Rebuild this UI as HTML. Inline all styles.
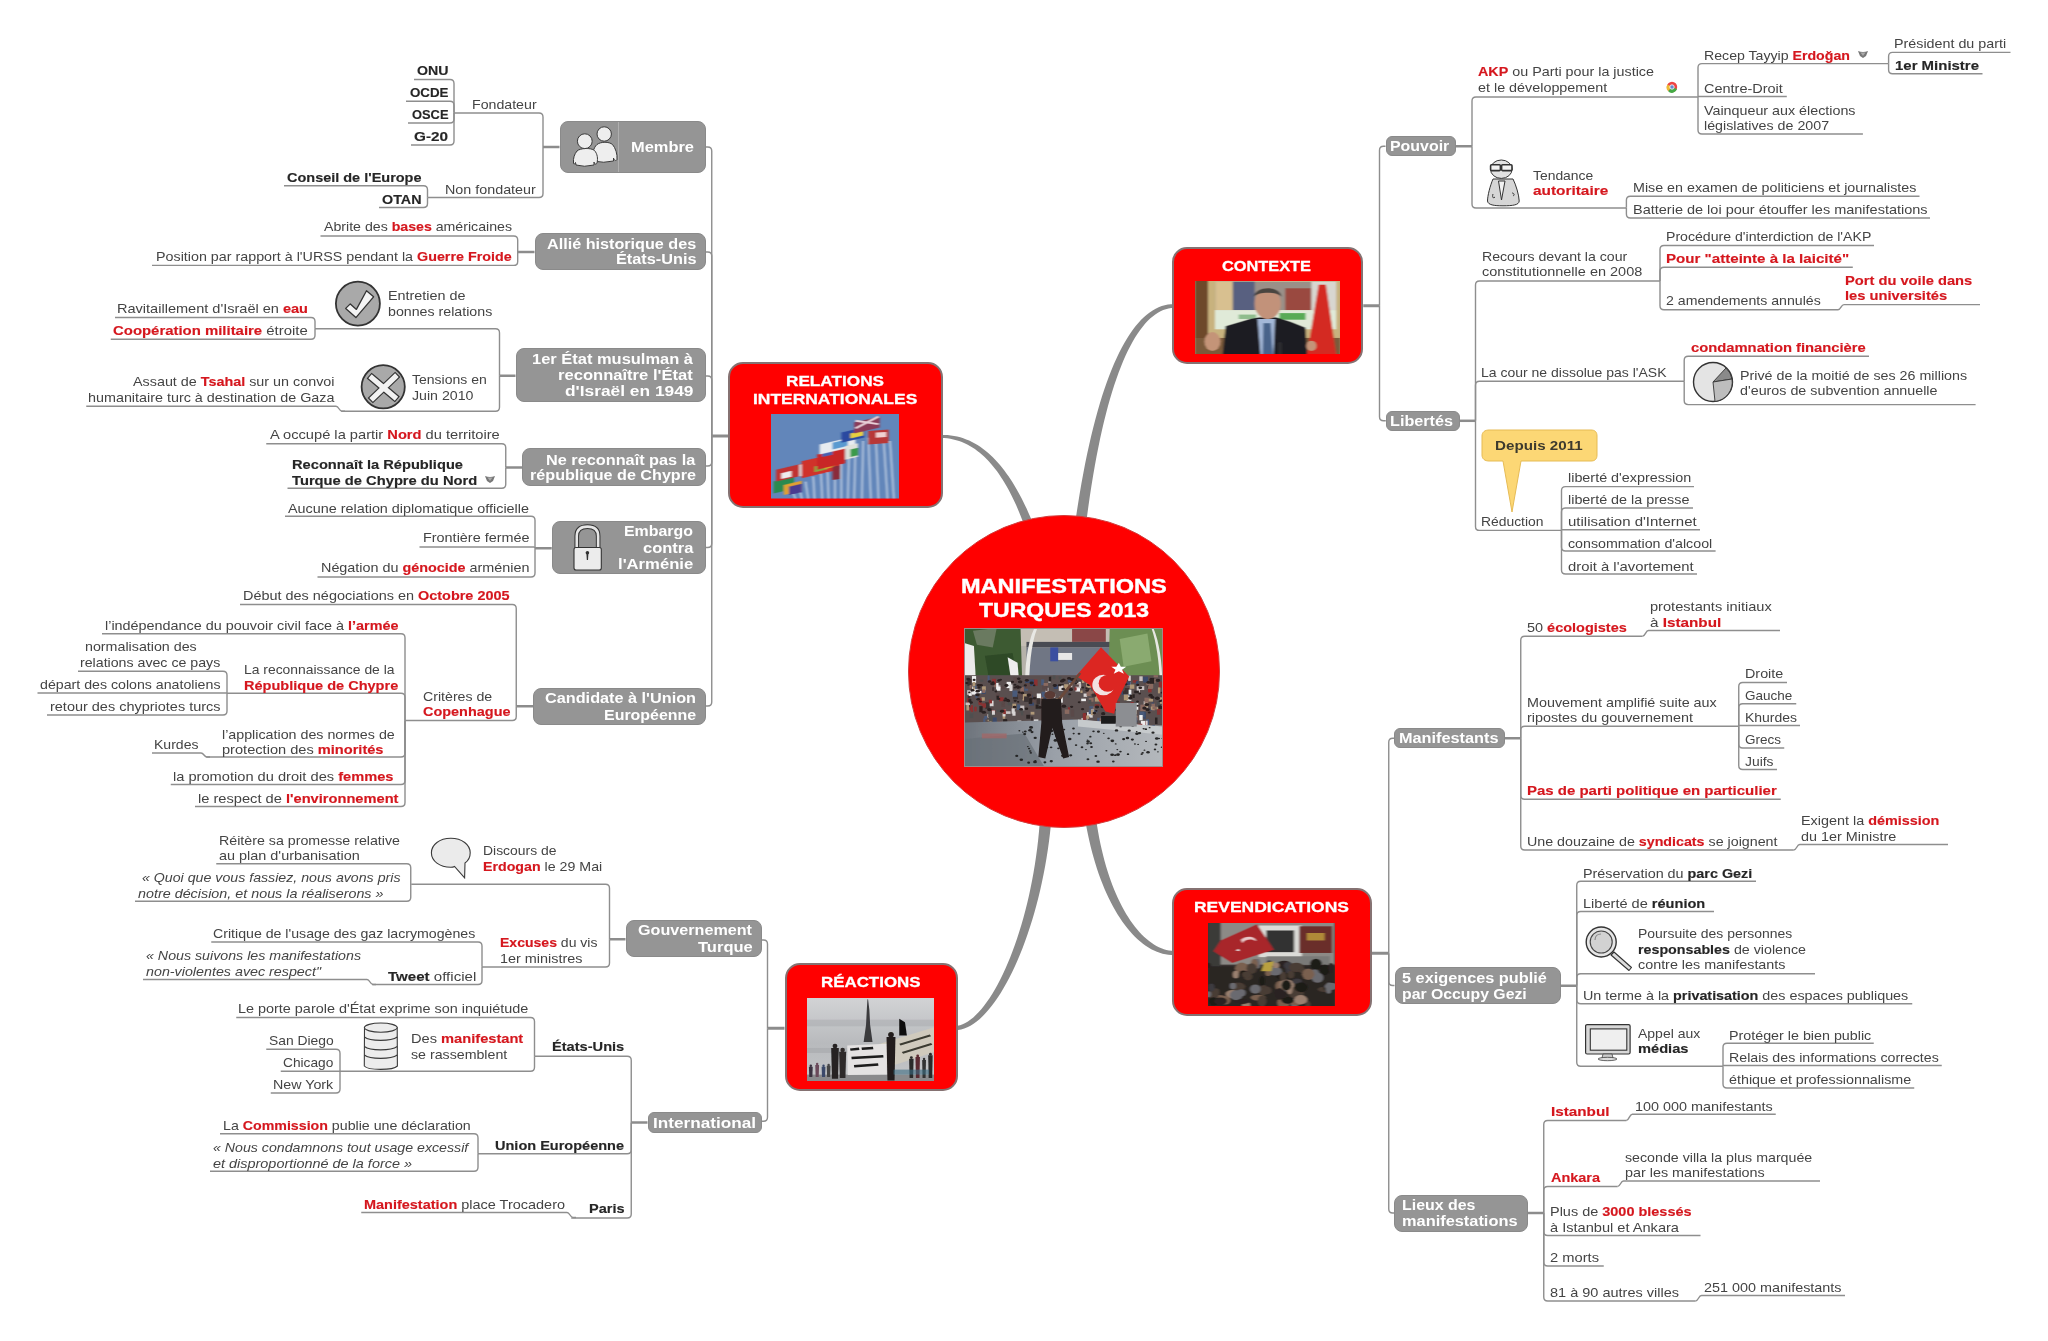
<!DOCTYPE html><html><head><meta charset="utf-8"><style>
*{margin:0;padding:0;box-sizing:border-box}
html,body{width:2048px;height:1341px;background:#fff;overflow:hidden}
body{position:relative;font-family:"Liberation Sans",sans-serif}
.t{position:absolute;white-space:nowrap;transform-origin:0 0}
.cn,.cb,.ci,.cy{font-size:13px;line-height:13px;color:#444444}
.cb{font-weight:bold;color:#262626}
.ci{font-style:italic}
.cy{font-weight:bold;color:#3d3a2e}
.cw{font-size:14px;line-height:14px;font-weight:bold;color:#fff}
.cT{font-size:20px;line-height:20px;font-weight:bold;color:#fff;-webkit-text-stroke:0.4px #fff}
.cR{font-size:15px;line-height:15px;font-weight:bold;color:#fff;-webkit-text-stroke:0.3px #fff}
b.r{color:#d5171e;-webkit-text-stroke:0.15px #d5171e}
b.k{color:#262626;-webkit-text-stroke:0.15px #262626}
.cb{-webkit-text-stroke:0.15px #262626}
.gb{position:absolute;background:#959595;border:1px solid #8a8a8a}
.rb{position:absolute;background:#f00;border:2.5px solid #857272;border-radius:15px}
svg{position:absolute;left:0;top:0}
</style></head><body>
<svg width="2048" height="1341" viewBox="0 0 2048 1341"><path d="M1034.21 526.42 L1032.76 522.81 L1031.27 519.23 L1029.75 515.66 L1028.19 512.13 L1026.59 508.62 L1024.95 505.15 L1023.27 501.72 L1021.56 498.32 L1019.80 494.98 L1018.00 491.68 L1016.16 488.44 L1014.27 485.25 L1012.34 482.12 L1010.37 479.06 L1008.35 476.06 L1006.28 473.14 L1004.17 470.29 L1002.00 467.53 L999.79 464.84 L997.53 462.25 L995.21 459.74 L992.85 457.33 L990.43 455.02 L987.96 452.82 L985.44 450.72 L982.86 448.73 L980.23 446.86 L977.54 445.11 L974.80 443.48 L972.00 441.98 L969.15 440.61 L966.24 439.38 L963.28 438.29 L960.26 437.35 L957.19 436.55 L954.06 435.91 L950.88 435.41 L947.64 435.08 L944.35 434.91 L941.00 434.90 L941.00 437.90 L944.19 438.05 L947.31 438.36 L950.36 438.82 L953.34 439.43 L956.25 440.18 L959.10 441.07 L961.88 442.10 L964.61 443.25 L967.27 444.54 L969.87 445.94 L972.42 447.47 L974.91 449.12 L977.35 450.88 L979.73 452.76 L982.06 454.74 L984.34 456.82 L986.57 459.01 L988.75 461.30 L990.89 463.68 L992.97 466.15 L995.01 468.72 L997.01 471.36 L998.95 474.09 L1000.86 476.90 L1002.71 479.78 L1004.53 482.74 L1006.30 485.76 L1008.04 488.84 L1009.73 491.99 L1011.37 495.20 L1012.98 498.45 L1014.55 501.76 L1016.09 505.11 L1017.58 508.51 L1019.04 511.94 L1020.46 515.42 L1021.84 518.92 L1023.19 522.45 L1024.51 526.00 L1025.79 529.58Z" fill="#8a8a8a"/>
<path d="M1085.45 528.71 L1086.88 517.43 L1088.37 506.46 L1089.90 495.80 L1091.49 485.45 L1093.13 475.42 L1094.83 465.69 L1096.57 456.27 L1098.36 447.15 L1100.19 438.34 L1102.08 429.83 L1104.01 421.62 L1105.98 413.71 L1107.99 406.10 L1110.05 398.79 L1112.14 391.78 L1114.28 385.06 L1116.45 378.63 L1118.66 372.49 L1120.91 366.65 L1123.19 361.09 L1125.50 355.83 L1127.85 350.84 L1130.22 346.15 L1132.62 341.73 L1135.05 337.60 L1137.51 333.75 L1139.98 330.17 L1142.49 326.88 L1145.01 323.85 L1147.55 321.10 L1150.11 318.61 L1152.68 316.39 L1155.28 314.43 L1157.89 312.73 L1160.51 311.28 L1163.16 310.08 L1165.83 309.13 L1168.52 308.43 L1171.25 307.97 L1174.00 307.75 L1174.00 304.25 L1170.92 304.29 L1167.84 304.61 L1164.76 305.21 L1161.70 306.09 L1158.65 307.25 L1155.63 308.69 L1152.63 310.41 L1149.65 312.41 L1146.71 314.69 L1143.79 317.25 L1140.91 320.08 L1138.07 323.19 L1135.26 326.58 L1132.48 330.25 L1129.73 334.20 L1127.03 338.43 L1124.35 342.93 L1121.72 347.72 L1119.12 352.80 L1116.56 358.16 L1114.04 363.80 L1111.56 369.73 L1109.11 375.95 L1106.71 382.46 L1104.35 389.27 L1102.03 396.36 L1099.76 403.75 L1097.53 411.44 L1095.34 419.42 L1093.20 427.70 L1091.11 436.29 L1089.07 445.17 L1087.07 454.36 L1085.12 463.85 L1083.23 473.65 L1081.38 483.76 L1079.59 494.17 L1077.86 504.90 L1076.17 515.94 L1074.55 527.29Z" fill="#8a8a8a"/>
<path d="M1040.26 814.60 L1039.69 823.10 L1038.99 831.54 L1038.15 839.90 L1037.18 848.18 L1036.09 856.37 L1034.88 864.46 L1033.55 872.45 L1032.12 880.32 L1030.57 888.07 L1028.93 895.69 L1027.18 903.17 L1025.35 910.51 L1023.42 917.69 L1021.41 924.72 L1019.32 931.57 L1017.16 938.26 L1014.92 944.75 L1012.62 951.06 L1010.25 957.16 L1007.83 963.06 L1005.35 968.75 L1002.83 974.21 L1000.26 979.44 L997.66 984.43 L995.02 989.18 L992.35 993.67 L989.66 997.90 L986.95 1001.87 L984.23 1005.55 L981.50 1008.95 L978.76 1012.06 L976.03 1014.87 L973.31 1017.38 L970.61 1019.57 L967.93 1021.45 L965.28 1023.01 L962.66 1024.24 L960.07 1025.15 L957.52 1025.74 L955.00 1026.00 L955.00 1030.00 L958.06 1029.89 L961.15 1029.40 L964.26 1028.52 L967.37 1027.27 L970.48 1025.68 L973.59 1023.74 L976.69 1021.48 L979.78 1018.90 L982.85 1016.02 L985.91 1012.83 L988.95 1009.35 L991.97 1005.59 L994.97 1001.55 L997.93 997.24 L1000.87 992.68 L1003.77 987.86 L1006.62 982.79 L1009.44 977.48 L1012.21 971.95 L1014.92 966.19 L1017.58 960.21 L1020.18 954.03 L1022.71 947.64 L1025.18 941.06 L1027.57 934.29 L1029.89 927.34 L1032.12 920.22 L1034.27 912.94 L1036.33 905.50 L1038.29 897.91 L1040.16 890.17 L1041.92 882.31 L1043.57 874.31 L1045.11 866.20 L1046.53 857.97 L1047.83 849.64 L1049.01 841.21 L1050.05 832.68 L1050.96 824.08 L1051.74 815.40Z" fill="#8a8a8a"/>
<path d="M1084.55 815.77 L1085.60 822.16 L1086.73 828.43 L1087.95 834.57 L1089.26 840.58 L1090.64 846.47 L1092.11 852.22 L1093.66 857.84 L1095.28 863.33 L1096.97 868.67 L1098.74 873.88 L1100.57 878.95 L1102.47 883.87 L1104.44 888.65 L1106.46 893.28 L1108.55 897.76 L1110.70 902.09 L1112.90 906.27 L1115.16 910.30 L1117.47 914.16 L1119.82 917.87 L1122.23 921.42 L1124.68 924.80 L1127.18 928.02 L1129.71 931.07 L1132.29 933.95 L1134.90 936.65 L1137.55 939.19 L1140.23 941.54 L1142.94 943.72 L1145.68 945.71 L1148.45 947.52 L1151.24 949.14 L1154.05 950.57 L1156.87 951.81 L1159.72 952.85 L1162.57 953.69 L1165.43 954.32 L1168.29 954.76 L1171.15 954.98 L1174.00 955.00 L1174.00 951.00 L1171.45 950.82 L1168.92 950.45 L1166.39 949.90 L1163.88 949.17 L1161.38 948.27 L1158.89 947.18 L1156.41 945.91 L1153.95 944.47 L1151.50 942.86 L1149.07 941.07 L1146.66 939.11 L1144.27 936.97 L1141.90 934.67 L1139.56 932.19 L1137.24 929.55 L1134.96 926.74 L1132.71 923.77 L1130.49 920.63 L1128.31 917.34 L1126.18 913.88 L1124.08 910.27 L1122.03 906.50 L1120.02 902.57 L1118.07 898.50 L1116.17 894.27 L1114.32 889.90 L1112.53 885.38 L1110.79 880.71 L1109.12 875.91 L1107.51 870.96 L1105.97 865.88 L1104.50 860.66 L1103.10 855.30 L1101.77 849.82 L1100.51 844.20 L1099.33 838.45 L1098.24 832.58 L1097.22 826.59 L1096.29 820.47 L1095.45 814.23Z" fill="#8a8a8a"/>
<g fill="none" stroke="#8e8e8e" stroke-width="1.4" stroke-linecap="butt">
<path d="M705.75 147H707.75 Q711.75 147 711.75 151V436"/>
<path d="M705.75 252H707.75 Q711.75 252 711.75 256V436"/>
<path d="M705.75 376H707.75 Q711.75 376 711.75 380V436"/>
<path d="M705.75 466H707.75 Q711.75 466 711.75 462V436"/>
<path d="M705.75 547.5H707.75 Q711.75 547.5 711.75 543.5V436"/>
<path d="M705.75 706H707.75 Q711.75 706 711.75 702V436"/>
<path d="M454 113H539 Q543 113 543 117V147"/>
<path d="M427.5 197.5H539 Q543 197.5 543 193.5V147"/>
<path d="M414 79.5H450 Q454 79.5 454 83.5V112.5"/>
<path d="M406 101.25H450 Q454 101.25 454 105.25V112.5"/>
<path d="M408 123H450 Q454 123 454 119V112.5"/>
<path d="M411 145H450 Q454 145 454 141V112.5"/>
<path d="M284 185.75H423.5 Q427.5 185.75 427.5 189.75V197.5"/>
<path d="M379 207.5H423.5 Q427.5 207.5 427.5 203.5V197.5"/>
<path d="M320.5 236H513.7 Q517.7 236 517.7 240V252"/>
<path d="M152 265.4H513.7 Q517.7 265.4 517.7 261.4V252"/>
<path d="M315 328.75H495.5 Q499.5 328.75 499.5 332.75V375.75"/>
<path d="M341.25 411.25H495.5 Q499.5 411.25 499.5 407.25V375.75"/>
<path d="M115 317.5H311 Q315 317.5 315 321.5V328.75"/>
<path d="M110.75 339.25H311 Q315 339.25 315 335.25V328.75"/>
<path d="M86.25 406.25H336 C339 406.25 339 411.25 342 411.25H345"/>
<path d="M266.25 443.75H501.75 Q505.75 443.75 505.75 447.75V467.5"/>
<path d="M287.5 488.25H501.75 Q505.75 488.25 505.75 484.25V467.5"/>
<path d="M285 516.25H531 Q535 516.25 535 520.25V548.25"/>
<path d="M419.5 547H533.75 Q535 547 535 548.25V548.25"/>
<path d="M317.5 577H531 Q535 577 535 573V548.25"/>
<path d="M240 604.5H512.25 Q516.25 604.5 516.25 608.5V706.25"/>
<path d="M405 720.5H512.25 Q516.25 720.5 516.25 716.5V706.25"/>
<path d="M102 633.75H401 Q405 633.75 405 637.75V720.5"/>
<path d="M227 693.25H401 Q405 693.25 405 697.25V720.5"/>
<path d="M206.25 757H401 Q405 757 405 753V720.5"/>
<path d="M170.75 784.5H401 Q405 784.5 405 780.5V720.5"/>
<path d="M195 806.5H401 Q405 806.5 405 802.5V720.5"/>
<path d="M78 671.25H223 Q227 671.25 227 675.25V693"/>
<path d="M37.5 693H227"/>
<path d="M47 715H223 Q227 715 227 711V693"/>
<path d="M152 753H201 C204 753 204 757 207 757H210"/>
<path d="M762 940H763.5 Q767.5 940 767.5 944V1028.25"/>
<path d="M762 1121.25H763.5 Q767.5 1121.25 767.5 1117.25V1028.25"/>
<path d="M411.25 884.25H605.5 Q609.5 884.25 609.5 888.25V939.25"/>
<path d="M482 967H605.5 Q609.5 967 609.5 963V939.25"/>
<path d="M216.25 863.75H406.75 Q410.75 863.75 410.75 867.75V883"/>
<path d="M135 901.25H406.75 Q410.75 901.25 410.75 897.25V883"/>
<path d="M211.25 942H478 Q482 942 482 946V966.25"/>
<path d="M372 984.5H478 Q482 984.5 482 980.5V966.25"/>
<path d="M143 979.5H367 C370 979.5 370 984.5 373 984.5H376"/>
<path d="M534.5 1056.25H627.25 Q631.25 1056.25 631.25 1060.25V1122.5"/>
<path d="M478 1153.75H627.25 Q631.25 1153.75 631.25 1149.75V1122.5"/>
<path d="M571.25 1218H627.25 Q631.25 1218 631.25 1214V1122.5"/>
<path d="M236.25 1017.5H530.5 Q534.5 1017.5 534.5 1021.5V1056.25"/>
<path d="M340 1071.25H530.5 Q534.5 1071.25 534.5 1067.25V1056.25"/>
<path d="M266.25 1049.25H336 Q340 1049.25 340 1053.25V1071.25"/>
<path d="M280.75 1071.25H340"/>
<path d="M270.75 1093H336 Q340 1093 340 1089V1071.25"/>
<path d="M220 1133.75H474 Q478 1133.75 478 1137.75V1153.75"/>
<path d="M210 1171.25H474 Q478 1171.25 478 1167.25V1153.75"/>
<path d="M361.25 1212.5H567 C570 1212.5 570 1217.5 573 1217.5H576"/>
<path d="M1385.5 146.25H1383.5 Q1379.5 146.25 1379.5 150.25V305.75"/>
<path d="M1385.75 420.8H1383.5 Q1379.5 420.8 1379.5 416.8V305.75"/>
<path d="M1698 97H1476 Q1472 97 1472 101V146.25"/>
<path d="M1626.4 208H1476 Q1472 208 1472 204V146.25"/>
<path d="M1888.6 63.6H1702 Q1698 63.6 1698 67.6V96.5"/>
<path d="M1786.8 96.5H1698"/>
<path d="M1862.9 134H1702 Q1698 134 1698 130V96.5"/>
<path d="M2010.5 52.4H1892.6 Q1888.6 52.4 1888.6 56.4V63.6"/>
<path d="M1982.5 73.7H1892.6 Q1888.6 73.7 1888.6 69.7V63.6"/>
<path d="M1919.5 196.3H1630.4 Q1626.4 196.3 1626.4 200.3V207.5"/>
<path d="M1930 218H1630.4 Q1626.4 218 1626.4 214V207.5"/>
<path d="M1660 281H1479.5 Q1475.5 281 1475.5 285V420.8"/>
<path d="M1684.2 381.2H1479.5 Q1475.5 381.2 1475.5 385.2V420.8"/>
<path d="M1561.5 530.4H1479.5 Q1475.5 530.4 1475.5 526.4V420.8"/>
<path d="M1874 245.5H1664 Q1660 245.5 1660 249.5V281"/>
<path d="M1852.8 267.2H1664 Q1660 267.2 1660 271.2V281"/>
<path d="M1838 309.7H1664 Q1660 309.7 1660 305.7V281"/>
<path d="M1838 309.7 C1841 309.7 1841 304.6 1844 304.6H1980"/>
<path d="M1869 356.3H1688.2 Q1684.2 356.3 1684.2 360.3V381.2"/>
<path d="M1975.6 404.6H1688.2 Q1684.2 404.6 1684.2 400.6V381.2"/>
<path d="M1694 486.6H1565.5 Q1561.5 486.6 1561.5 490.6V530.4"/>
<path d="M1693 508H1565.5 Q1561.5 508 1561.5 512V530.4"/>
<path d="M1700 529.7H1561.5"/>
<path d="M1715.6 551H1565.5 Q1561.5 551 1561.5 547V530.4"/>
<path d="M1697 574H1565.5 Q1561.5 574 1561.5 570V530.4"/>
<path d="M1394.25 738.25H1392.75 Q1388.75 738.25 1388.75 742.25V953.25"/>
<path d="M1394.5 985.5H1392.75 Q1388.75 985.5 1388.75 981.5V953.25"/>
<path d="M1394.25 1213H1392.75 Q1388.75 1213 1388.75 1209V953.25"/>
<path d="M1642.5 636.25H1524.75 Q1520.75 636.25 1520.75 640.25V738.25"/>
<path d="M1738.75 726.25H1524.75 Q1520.75 726.25 1520.75 730.25V738.25"/>
<path d="M1780.75 799.25H1524.75 Q1520.75 799.25 1520.75 795.25V738.25"/>
<path d="M1793.75 850H1524.75 Q1520.75 850 1520.75 846V738.25"/>
<path d="M1642.5 636.25 C1645.5 636.25 1645.5 630.5 1648.5 630.5H1780"/>
<path d="M1787 682.5H1742.75 Q1738.75 682.5 1738.75 686.5V726.25"/>
<path d="M1796.25 703.75H1742.75 Q1738.75 703.75 1738.75 707.75V726.25"/>
<path d="M1800 725.5H1738.75"/>
<path d="M1784.25 748H1742.75 Q1738.75 748 1738.75 744V726.25"/>
<path d="M1777 769.5H1742.75 Q1738.75 769.5 1738.75 765.5V726.25"/>
<path d="M1793.75 850 C1796.75 850 1796.75 844.5 1799.75 844.5H1948"/>
<path d="M1756 881.25H1580.75 Q1576.75 881.25 1576.75 885.25V985.75"/>
<path d="M1714 911.5H1580.75 Q1576.75 911.5 1576.75 915.5V985.75"/>
<path d="M1815 973.75H1580.75 Q1576.75 973.75 1576.75 977.75V985.75"/>
<path d="M1912.25 1003.75H1580.75 Q1576.75 1003.75 1576.75 999.75V985.75"/>
<path d="M1723 1066.25H1580.75 Q1576.75 1066.25 1576.75 1062.25V985.75"/>
<path d="M1873.75 1043.25H1727 Q1723 1043.25 1723 1047.25V1066.25"/>
<path d="M1941.75 1065.5H1723"/>
<path d="M1914.25 1088H1727 Q1723 1088 1723 1084V1066.25"/>
<path d="M1626.25 1120.5H1547.75 Q1543.75 1120.5 1543.75 1124.5V1213"/>
<path d="M1617.5 1186.5H1547.75 Q1543.75 1186.5 1543.75 1190.5V1213"/>
<path d="M1700.5 1235.5H1547.75 Q1543.75 1235.5 1543.75 1231.5V1213"/>
<path d="M1603.75 1266H1547.75 Q1543.75 1266 1543.75 1262V1213"/>
<path d="M1695.5 1301H1547.75 Q1543.75 1301 1543.75 1297V1213"/>
<path d="M1626.25 1120.5 C1629.25 1120.5 1629.25 1114.25 1632.25 1114.25H1775.75"/>
<path d="M1617.5 1186.5 C1620.5 1186.5 1620.5 1181 1623.5 1181H1820"/>
<path d="M1695.5 1301 C1698.5 1301 1698.5 1295.5 1701.5 1295.5H1845"/>
</g><g fill="none" stroke="#8c8c8c" stroke-linecap="butt">
<path d="M711.75 436H728" stroke-width="3"/>
<path d="M543 147H559.5" stroke-width="2.5"/>
<path d="M517.7 252H534.5" stroke-width="2.5"/>
<path d="M499.5 375.75H515.5" stroke-width="2.5"/>
<path d="M505.75 467.5H522" stroke-width="2.5"/>
<path d="M535 548.25H551.75" stroke-width="2.5"/>
<path d="M516.25 706.25H533" stroke-width="2.5"/>
<path d="M767.5 1028.25H784.5" stroke-width="3"/>
<path d="M609.5 939.25H625.5" stroke-width="2.5"/>
<path d="M631.25 1122.5H647.5" stroke-width="2.5"/>
<path d="M1363.25 305.75H1379.5" stroke-width="3"/>
<path d="M1455.75 146.25H1472" stroke-width="2.5"/>
<path d="M1459.5 420.8H1475.5" stroke-width="2.5"/>
<path d="M1372 953.25H1388.75" stroke-width="3"/>
<path d="M1504.5 738.25H1520.75" stroke-width="2.5"/>
<path d="M1560.75 985.75H1576.75" stroke-width="2.5"/>
<path d="M1527.5 1213H1543.75" stroke-width="2.5"/>
</g></svg>
<div class="gb" style="left:559.50px;top:120.50px;width:146.25px;height:52.00px;border-radius:8px"></div>
<div class="gb" style="left:534.50px;top:233.00px;width:171.25px;height:37.00px;border-radius:8px"></div>
<div class="gb" style="left:515.50px;top:348.00px;width:190.25px;height:54.00px;border-radius:8px"></div>
<div class="gb" style="left:522.00px;top:448.25px;width:183.75px;height:37.25px;border-radius:8px"></div>
<div class="gb" style="left:551.75px;top:520.75px;width:154.00px;height:53.50px;border-radius:8px"></div>
<div class="gb" style="left:533.00px;top:688.00px;width:172.75px;height:36.50px;border-radius:8px"></div>
<div class="gb" style="left:625.50px;top:919.50px;width:136.50px;height:37.50px;border-radius:8px"></div>
<div class="gb" style="left:647.50px;top:1112.00px;width:114.50px;height:21.00px;border-radius:6px"></div>
<div class="gb" style="left:1385.50px;top:135.50px;width:70.25px;height:20.75px;border-radius:6px"></div>
<div class="gb" style="left:1385.75px;top:410.50px;width:73.75px;height:20.00px;border-radius:6px"></div>
<div class="gb" style="left:1394.25px;top:727.50px;width:110.25px;height:20.75px;border-radius:6px"></div>
<div class="gb" style="left:1394.50px;top:967.00px;width:166.25px;height:37.25px;border-radius:8px"></div>
<div class="gb" style="left:1394.25px;top:1194.75px;width:133.25px;height:36.75px;border-radius:8px"></div>
<div class="rb" style="left:728.00px;top:361.75px;width:215.00px;height:146.25px"></div>
<div class="rb" style="left:1172.00px;top:247.00px;width:191.25px;height:116.75px"></div>
<div class="rb" style="left:784.50px;top:963.00px;width:173.00px;height:128.25px"></div>
<div class="rb" style="left:1172.00px;top:888.25px;width:200.00px;height:128.00px"></div>
<div style="position:absolute;left:907.5px;top:515px;width:312.5px;height:312.5px;border-radius:50%;background:#f00;border:1px solid #d23c3c"></div>
<svg style="position:absolute;left:1194.50px;top:281.25px;width:145.50px;height:73.00px" width="145.50" height="73.00" viewBox="0 0 100 100" preserveAspectRatio="none">
<defs><filter id="bl1" x="-10%" y="-10%" width="120%" height="120%"><feGaussianBlur stdDeviation="0.9"/></filter></defs>
<rect width="100" height="100" fill="#b49a74"/>
<g filter="url(#bl1)">
<rect x="0" y="0" width="9" height="100" fill="#6e4a2a"/>
<rect x="9" y="0" width="91" height="80" fill="#c8b27e"/>
<rect x="13.8" y="1" width="83.2" height="65" fill="#e6e0cc"/>
<rect x="13.8" y="1" width="83.2" height="39" fill="#9a9088"/>
<rect x="14" y="1" width="12" height="39" fill="#d8c090"/>
<rect x="26" y="1" width="15" height="39" fill="#586080"/>
<rect x="62" y="10" width="18" height="30" fill="#9a4a40"/>
<rect x="80" y="1" width="17" height="39" fill="#d8d6d0"/>
<rect x="13.8" y="40" width="83.2" height="26" fill="#e0ead8"/>
<rect x="30" y="46" width="12" height="6" fill="#7ab07a" opacity="0.8"/>
<rect x="58" y="44" width="18" height="9" fill="#40a040" opacity="0.85"/>
<rect x="0" y="78" width="100" height="22" fill="#7a5a3a"/>
<path d="M85 5 L90 5 L97 100 L77 100 Z" fill="#d42a20"/>
<path d="M19 100 L21 62 L38 52 L44 50 L56 50 L66 56 L76 64 L77 100 Z" fill="#1c1c24"/>
<path d="M43 52 L55 52 L54 100 L45 100 Z" fill="#a4b8d8"/>
<path d="M47 58 L52 58 L53.5 100 L46.5 100 Z" fill="#48648a"/>
<ellipse cx="50" cy="31" rx="9" ry="21" fill="#c2927a"/>
<path d="M40.5 22 C41 6 59 6 59.5 22 C57 14 43 14 40.5 22 Z" fill="#4a4440"/>
<ellipse cx="12" cy="83" rx="5.5" ry="13" fill="#c49478"/>
<ellipse cx="80" cy="89" rx="3.5" ry="7" fill="#c49478"/>
<rect x="57.5" y="84" width="2" height="16" fill="#333"/>
</g></svg>
<svg style="position:absolute;left:1208.25px;top:923.00px;width:126.75px;height:83.25px" width="126.75" height="83.25" viewBox="0 0 100 100" preserveAspectRatio="none">
<defs><filter id="bl2"><feGaussianBlur stdDeviation="0.7"/></filter></defs>
<rect width="100" height="100" fill="#3a3432"/>
<g filter="url(#bl2)">
<rect x="0" y="0" width="100" height="50" fill="#8c8a86"/>
<rect x="0" y="0" width="10" height="60" fill="#3a3a38"/>
<rect x="40" y="3" width="34" height="38" fill="#dcdcd8"/>
<rect x="46" y="9" width="22" height="26" fill="#333"/>
<rect x="72" y="4" width="26" height="32" fill="#6a2e2c"/>
<rect x="78" y="12" width="14" height="9" fill="#b08a38"/>
<rect x="46" y="40" width="50" height="10" fill="#7a7a78"/>
<path d="M4.3 34 L10 21 L38.6 1.6 L52 32 L19 48 Z" fill="#a8252a"/>
<path d="M26 20 C30 14 38 16 38 22 C35 19 30 19 27 24 Z" fill="#e8c8c8"/><path d="M22 33 L24 31 L25 34 Z" fill="#eee"/>
<rect x="0" y="52" width="100" height="48" fill="#2a2624"/>
<ellipse cx="23.8" cy="76.3" rx="5.7" ry="4.9" fill="#4a3c34"/><ellipse cx="58.1" cy="79.5" rx="3.9" ry="5.2" fill="#6a6a70"/><ellipse cx="19.2" cy="85.3" rx="5.3" ry="4.9" fill="#9a8070"/><ellipse cx="63.9" cy="55.8" rx="2.6" ry="6.7" fill="#3c3a40"/><ellipse cx="39.0" cy="48.8" rx="2.3" ry="6.0" fill="#6a6a70"/><ellipse cx="59.1" cy="63.7" rx="5.3" ry="4.1" fill="#1e1a18"/><ellipse cx="59.5" cy="95.8" rx="4.9" ry="6.7" fill="#7a6050"/><ellipse cx="39.5" cy="89.6" rx="5.9" ry="3.5" fill="#7a6050"/><ellipse cx="36.6" cy="49.9" rx="2.9" ry="6.9" fill="#7a6050"/><ellipse cx="43.6" cy="80.6" rx="3.7" ry="6.3" fill="#4a3c34"/><ellipse cx="57.4" cy="75.8" rx="4.3" ry="6.6" fill="#7a6050"/><ellipse cx="68.2" cy="96.3" rx="3.1" ry="5.4" fill="#6a6a70"/><ellipse cx="69.6" cy="84.3" rx="5.9" ry="6.6" fill="#4a3c34"/><ellipse cx="56.9" cy="85.1" rx="4.5" ry="7.0" fill="#2a2420"/><ellipse cx="26.7" cy="54.5" rx="5.4" ry="7.0" fill="#7a6050"/><ellipse cx="8.9" cy="89.6" rx="5.6" ry="3.1" fill="#7a6050"/><ellipse cx="42.7" cy="69.6" rx="2.2" ry="5.5" fill="#1e1a18"/><ellipse cx="4.5" cy="85.4" rx="4.2" ry="6.7" fill="#4a3c34"/><ellipse cx="27.9" cy="60.3" rx="3.2" ry="3.3" fill="#1e1a18"/><ellipse cx="60.0" cy="49.6" rx="5.9" ry="4.2" fill="#2a2420"/><ellipse cx="26.3" cy="83.9" rx="3.4" ry="4.4" fill="#6a6a70"/><ellipse cx="13.8" cy="92.8" rx="3.8" ry="5.1" fill="#7a6050"/><ellipse cx="64.4" cy="79.0" rx="2.4" ry="6.9" fill="#9a8070"/><ellipse cx="81.2" cy="62.1" rx="4.9" ry="4.0" fill="#3c3a40"/><ellipse cx="30.1" cy="98.8" rx="3.2" ry="4.4" fill="#9a8070"/><ellipse cx="78.8" cy="99.3" rx="2.1" ry="5.5" fill="#4a3c34"/><ellipse cx="63.2" cy="51.1" rx="3.3" ry="4.4" fill="#3c3a40"/><ellipse cx="91.7" cy="79.7" rx="5.0" ry="3.1" fill="#4a3c34"/><ellipse cx="6.1" cy="83.2" rx="3.0" ry="4.8" fill="#4a3c34"/><ellipse cx="59.3" cy="64.6" rx="2.7" ry="6.0" fill="#4a3c34"/><ellipse cx="84.4" cy="61.7" rx="3.5" ry="6.1" fill="#6a6a70"/><ellipse cx="2.7" cy="77.6" rx="2.5" ry="5.0" fill="#3c3a40"/><ellipse cx="65.4" cy="62.0" rx="2.7" ry="4.7" fill="#4a3c34"/><ellipse cx="69.8" cy="53.3" rx="5.8" ry="5.7" fill="#4a3c34"/><ellipse cx="22.4" cy="90.1" rx="2.3" ry="6.0" fill="#2a2420"/><ellipse cx="21.8" cy="77.6" rx="2.9" ry="3.5" fill="#4a3c34"/><ellipse cx="53.0" cy="57.9" rx="5.3" ry="5.3" fill="#6a6a70"/><ellipse cx="86.4" cy="65.7" rx="4.6" ry="6.2" fill="#6a6a70"/><ellipse cx="34.5" cy="54.7" rx="4.1" ry="6.4" fill="#4a3c34"/><ellipse cx="46.5" cy="81.0" rx="3.7" ry="4.6" fill="#4a3c34"/><ellipse cx="92.1" cy="56.1" rx="3.9" ry="6.3" fill="#1e1a18"/><ellipse cx="62.3" cy="74.5" rx="5.8" ry="6.7" fill="#9a8070"/><ellipse cx="22.2" cy="86.8" rx="5.0" ry="6.0" fill="#6a6a70"/><ellipse cx="96.3" cy="76.3" rx="5.4" ry="6.4" fill="#2a2420"/><ellipse cx="97.1" cy="54.2" rx="2.2" ry="6.6" fill="#2a2420"/><ellipse cx="69.4" cy="96.0" rx="4.3" ry="3.1" fill="#7a6050"/><ellipse cx="74.5" cy="56.9" rx="3.0" ry="3.1" fill="#4a3c34"/><ellipse cx="53.7" cy="50.8" rx="2.5" ry="3.5" fill="#9a8070"/><ellipse cx="97.2" cy="76.1" rx="5.1" ry="4.4" fill="#6a6a70"/><ellipse cx="19.7" cy="75.8" rx="2.5" ry="4.0" fill="#6a6a70"/><ellipse cx="27.4" cy="94.3" rx="5.3" ry="3.0" fill="#2a2420"/><ellipse cx="62.9" cy="92.9" rx="5.0" ry="4.0" fill="#1e1a18"/><ellipse cx="61.8" cy="75.0" rx="3.9" ry="6.1" fill="#1e1a18"/><ellipse cx="0.2" cy="50.9" rx="2.2" ry="3.2" fill="#2a2420"/><ellipse cx="48.3" cy="49.7" rx="2.3" ry="5.0" fill="#3c3a40"/><ellipse cx="31.6" cy="64.4" rx="3.5" ry="4.6" fill="#4a3c34"/><ellipse cx="30.4" cy="61.8" rx="3.7" ry="3.5" fill="#4a3c34"/><ellipse cx="0.3" cy="85.6" rx="2.3" ry="3.7" fill="#6a6a70"/><ellipse cx="37.3" cy="79.4" rx="4.2" ry="5.5" fill="#6a6a70"/><ellipse cx="4.3" cy="94.1" rx="3.5" ry="5.0" fill="#1e1a18"/><ellipse cx="70.3" cy="69.9" rx="3.7" ry="3.1" fill="#3c3a40"/><ellipse cx="21.9" cy="62.0" rx="2.3" ry="4.7" fill="#9a8070"/><ellipse cx="42.6" cy="93.7" rx="3.5" ry="6.6" fill="#4a3c34"/><ellipse cx="79.1" cy="61.6" rx="4.8" ry="6.8" fill="#7a6050"/><ellipse cx="73.2" cy="92.2" rx="5.2" ry="5.7" fill="#9a8070"/><ellipse cx="73.4" cy="77.3" rx="5.2" ry="5.9" fill="#1e1a18"/><ellipse cx="47.4" cy="60.3" rx="2.2" ry="3.4" fill="#7a6050"/><ellipse cx="9.9" cy="93.8" rx="5.3" ry="4.4" fill="#2a2420"/><ellipse cx="85.2" cy="49.3" rx="4.7" ry="6.3" fill="#1e1a18"/><ellipse cx="95.2" cy="78.1" rx="2.4" ry="7.0" fill="#6a6a70"/>
<path d="M44 48 L52 46 L50 58 L42 58 Z" fill="#b8a040"/>
</g></svg>
<svg style="position:absolute;left:807.00px;top:998.00px;width:127.25px;height:83.25px" width="127.25" height="83.25" viewBox="0 0 100 100" preserveAspectRatio="none">
<defs><filter id="bl3"><feGaussianBlur stdDeviation="0.6"/></filter>
<linearGradient id="sky3" x1="0" y1="0" x2="0" y2="1"><stop offset="0" stop-color="#d2d3d5"/><stop offset="0.55" stop-color="#b8babd"/><stop offset="1" stop-color="#c4c6c8"/></linearGradient></defs>
<rect width="100" height="100" fill="url(#sky3)"/>
<g filter="url(#bl3)">
<rect x="0" y="26" width="100" height="8" fill="#a8aaad" opacity="0.5"/>
<rect x="0" y="60" width="60" height="6" fill="#a2a4a7" opacity="0.5"/>
<path d="M47.5 1.5 L48 1.5 L49 14 L49.6 32 L51.5 53 L44.5 53 L46.4 32 L47 14 Z" fill="#3a3a3e"/>
<rect x="0" y="92" width="100" height="8" fill="#8a8a8c"/>
<path d="M51 58 L100 35 L100 65 L70 80 L60 82 Z" fill="#cfcabd"/>
<path d="M73 56 L97 45 M75 66 L98 55" stroke="#3a3a30" stroke-width="2.4" fill="none"/>
<path d="M31.6 57 L62.7 55 L62.7 92 L32 92.5 Z" fill="#e4e2e2"/>
<path d="M34 62 L41 61 M43 61 L52 60 M35 72 L60 70 M37 82 L56 80" stroke="#1a1a1a" stroke-width="3" fill="none"/>
<ellipse cx="22" cy="57.688" rx="1.92" ry="2.88" fill="#262424"/><path d="M19 59.992 L25 59.992 L24.4 97 L19.6 97 Z" fill="#262424"/><ellipse cx="28" cy="62.464" rx="1.76" ry="2.64" fill="#2e2a2a"/><path d="M25.25 64.576 L30.75 64.576 L30.2 96 L25.8 96 Z" fill="#2e2a2a"/><ellipse cx="66" cy="44.136" rx="2.24" ry="3.36" fill="#221c1a"/><path d="M62.5 46.824 L69.5 46.824 L68.8 99 L63.2 99 Z" fill="#221c1a"/><ellipse cx="3" cy="81.344" rx="0.96" ry="1.44" fill="#3a3040"/><path d="M1.5 82.496 L4.5 82.496 L4.2 95 L1.8 95 Z" fill="#3a3040"/><ellipse cx="8" cy="79.344" rx="0.96" ry="1.44" fill="#6a4a5a"/><path d="M6.5 80.496 L9.5 80.496 L9.2 95 L6.8 95 Z" fill="#6a4a5a"/><ellipse cx="13" cy="81.344" rx="0.96" ry="1.44" fill="#3a4a6a"/><path d="M11.5 82.496 L14.5 82.496 L14.2 95 L11.8 95 Z" fill="#3a4a6a"/><ellipse cx="17" cy="80.344" rx="0.96" ry="1.44" fill="#444"/><path d="M15.5 81.496 L18.5 81.496 L18.2 95 L15.8 95 Z" fill="#444"/><ellipse cx="82" cy="71.568" rx="1.12" ry="1.68" fill="#2a2a2a"/><path d="M80.25 72.912 L83.75 72.912 L83.4 96 L80.6 96 Z" fill="#2a2a2a"/><ellipse cx="87" cy="69.568" rx="1.12" ry="1.68" fill="#5a2a30"/><path d="M85.25 70.912 L88.75 70.912 L88.4 96 L85.6 96 Z" fill="#5a2a30"/><ellipse cx="92" cy="73.344" rx="0.96" ry="1.44" fill="#333"/><path d="M90.5 74.496 L93.5 74.496 L93.2 96 L90.8 96 Z" fill="#333"/><ellipse cx="97" cy="67.568" rx="1.12" ry="1.68" fill="#2a2a2a"/><path d="M95.25 68.912 L98.75 68.912 L98.4 96 L95.6 96 Z" fill="#2a2a2a"/>
<path d="M72.5 25 L77 29 L78.5 45 L72.5 45 Z" fill="#101010"/>
<rect x="68" y="86" width="28" height="6" fill="#3a6a80" opacity="0.6"/>
</g></svg>
<svg style="position:absolute;left:771.25px;top:414.25px;width:128.00px;height:84.50px" width="128.00" height="84.50" viewBox="0 0 100 100" preserveAspectRatio="none">
<defs><filter id="bl4"><feGaussianBlur stdDeviation="0.8"/></filter></defs>
<rect width="100" height="100" fill="#6286ba"/>
<g filter="url(#bl4)">
<path d="M19 100 L17 92 M24 100 L22 86 M29 100 L27 80 M34 100 L33 74 M40 100 L39 68 M45 100 L44 62 M50 100 L50 56 M55 100 L55 50 M60 100 L61 44 M65 100 L66 38 M71 100 L72 32 M78 100 L76 28 M84 100 L82 30 M91 100 L88 30 M96 100 L93 32" stroke="#dfe6f0" stroke-width="1.0" fill="none"/>
<path d="M2 80 L18 74.4 L18 88.4 L2 94 Z" fill="#2a8a50"/><path d="M10 84 L24 79.1 L24 91.1 L10 96 Z" fill="#e0a030"/><path d="M14 86 L24 82.5 L24 92.5 L14 96 Z" fill="#4a3a90"/><path d="M4 66 L24 59 L24 73 L4 80 Z" fill="#c03030"/><path d="M8 70 L16 67.2 L16 74.2 L8 77 Z" fill="#eeeeee"/><path d="M22 60 L38 54.4 L38 68.4 L22 74 Z" fill="#d8dadc"/><path d="M24 56 L54 45.5 L54 65.5 L24 76 Z" fill="#d0302c"/><path d="M34 62 L44 58.5 L44 65.5 L34 69 Z" fill="#8aa840"/><path d="M42 58 L50 55.2 L50 62.2 L42 65 Z" fill="#e0c030"/><path d="M36 48 L58 40.3 L58 58.3 L36 66 Z" fill="#c82828"/><path d="M40 45 L48 42.2 L48 48.2 L40 51 Z" fill="#4a60b0"/><path d="M38 36 L66 26.2 L66 38.2 L38 48 Z" fill="#e8ecf0"/><path d="M48 34 L60 29.8 L60 37.8 L48 42 Z" fill="#5a9ad0"/><path d="M58 38 L68 34.5 L68 50.5 L58 54 Z" fill="#dfe2dc"/><path d="M62 42 L68 39.9 L68 48.9 L62 51 Z" fill="#3a9a4a"/><path d="M55 22 L73 15.7 L73 27.7 L55 34 Z" fill="#2a4aa0"/><path d="M62 23 L72 19.5 L72 25.5 L62 29 Z" fill="#e8d040"/><path d="M65 10 L85 3 L85 16 L65 23 Z" fill="#8a3a58"/><path d="M66 8 L84 12 M66 17 L84 3" stroke="#e8d0d8" stroke-width="2.2"/><path d="M76 20 L92 18.4 L92 34.4 L76 36 Z" fill="#b83838"/><path d="M82 22 L90 21.2 L90 27.2 L82 28 Z" fill="#f0d0d0"/><path d="M48 62 L54 60.8 L54 76.8 L48 78 Z" fill="#8a2a3a"/>
</g></svg>
<svg style="position:absolute;left:964.50px;top:628.00px;width:198.30px;height:138.80px" width="198.30" height="138.80" viewBox="0 0 100 100" preserveAspectRatio="none">
<defs><filter id="bl5"><feGaussianBlur stdDeviation="0.4"/></filter>
<linearGradient id="st5" x1="0" y1="0" x2="1" y2="0"><stop offset="0" stop-color="#6e747c"/><stop offset="0.45" stop-color="#9aa0a8"/><stop offset="1" stop-color="#b4b8bc"/></linearGradient></defs>
<rect width="100" height="100" fill="#8a8c8e"/>
<g filter="url(#bl5)">
<rect x="0" y="0" width="100" height="40" fill="#b6b2aa"/>
<rect x="28" y="0" width="45" height="13" fill="#c4beb4"/>
<rect x="54" y="0" width="17" height="10" fill="#8a4646"/>
<rect x="31" y="10" width="47" height="4" fill="#484c52"/>
<rect x="31" y="14" width="42" height="22" fill="#707684"/>
<rect x="43" y="14" width="4" height="10" fill="#3a50a0"/>
<rect x="47" y="18" width="7" height="5" fill="#e8e8e8"/>
<path d="M0 0 L28 0 L29 46 L0 48 Z" fill="#3e5a32"/>
<path d="M4 2 L16 0 L14 14 L6 12 Z" fill="#6a7a60"/>
<path d="M10 20 L24 18 L26 34 L12 36 Z" fill="#2e4a28"/>
<path d="M73 0 L100 0 L100 52 L72 46 Z" fill="#6c8e52"/>
<path d="M78 8 L92 4 L94 24 L80 28 Z" fill="#8aaa70"/>
<path d="M30.5 46 C30 30 31 12 35 0 L36.5 0 C33 12 32.5 30 32.2 46 Z" fill="#e8e8e4"/>
<path d="M95 0 C98 10 99.5 25 99.5 40 L98.3 40 C98 25 96.5 10 94 0 Z" fill="#e8e8e4"/>
<path d="M0 11 L4.5 13 L5.5 38 L0 36 Z" fill="#ecebea"/>
<path d="M21.5 21 L26.5 25 L27.5 42 L23.5 40 Z" fill="#efeeee"/>
<rect x="0" y="34" width="100" height="36" fill="#5a5050"/>
<rect x="92.4" y="50.8" width="2.4" height="2.2" fill="#b09878"/><rect x="80.4" y="51.1" width="2.3" height="1.8" fill="#505050"/><rect x="30.3" y="37.3" width="2.0" height="3.6" fill="#3a4a6a"/><rect x="39.6" y="50.3" width="2.0" height="2.1" fill="#3a4a6a"/><rect x="1.5" y="53.0" width="1.1" height="4.6" fill="#2a2424"/><rect x="60.0" y="62.0" width="1.7" height="4.4" fill="#eeeeee"/><rect x="51.9" y="57.1" width="1.0" height="1.8" fill="#8a3030"/><rect x="65.5" y="48.6" width="2.6" height="4.4" fill="#b09878"/><rect x="70.8" y="45.3" width="1.8" height="1.6" fill="#8a6a60"/><rect x="56.3" y="37.9" width="2.4" height="2.9" fill="#3a3030"/><rect x="95.8" y="64.5" width="1.3" height="4.7" fill="#2a2424"/><rect x="5.2" y="47.5" width="1.6" height="1.8" fill="#3a4a6a"/><rect x="62.9" y="62.0" width="1.5" height="2.6" fill="#d8d4d4"/><rect x="1.5" y="48.8" width="1.2" height="4.0" fill="#3a3030"/><rect x="1.1" y="50.7" width="1.3" height="3.5" fill="#8a3030"/><rect x="44.7" y="40.9" width="2.2" height="3.0" fill="#3a4a6a"/><rect x="38.4" y="48.2" width="1.0" height="4.5" fill="#8a6a60"/><rect x="97.5" y="55.3" width="1.3" height="2.9" fill="#2a2424"/><rect x="85.4" y="57.1" width="1.1" height="2.0" fill="#3a3030"/><rect x="44.2" y="34.3" width="1.5" height="2.5" fill="#505050"/><rect x="7.3" y="37.2" width="2.0" height="1.6" fill="#505050"/><rect x="12.7" y="55.1" width="1.2" height="2.9" fill="#505050"/><rect x="62.7" y="45.2" width="2.3" height="2.4" fill="#8a6a60"/><rect x="19.0" y="60.6" width="1.3" height="4.8" fill="#b09878"/><rect x="88.2" y="55.7" width="1.1" height="1.9" fill="#4a5a7a"/><rect x="51.2" y="43.2" width="2.1" height="2.4" fill="#3a4a6a"/><rect x="82.4" y="55.5" width="1.8" height="4.8" fill="#d8d4d4"/><rect x="97.7" y="38.6" width="1.9" height="4.5" fill="#8a3030"/><rect x="61.4" y="44.1" width="2.2" height="1.7" fill="#8a6a60"/><rect x="41.1" y="43.0" width="1.3" height="2.8" fill="#2a2424"/><rect x="57.2" y="38.7" width="1.2" height="3.1" fill="#eeeeee"/><rect x="33.1" y="60.4" width="1.9" height="2.0" fill="#b09878"/><rect x="3.5" y="34.6" width="2.1" height="4.9" fill="#eeeeee"/><rect x="2.1" y="56.9" width="1.1" height="2.6" fill="#8a3030"/><rect x="13.7" y="36.6" width="1.9" height="4.1" fill="#8a3030"/><rect x="90.0" y="60.5" width="1.2" height="4.9" fill="#3a4a6a"/><rect x="34.2" y="37.1" width="2.4" height="4.5" fill="#8a3030"/><rect x="86.3" y="54.6" width="2.1" height="2.8" fill="#505050"/><rect x="1.2" y="36.6" width="2.0" height="5.0" fill="#3a3030"/><rect x="88.0" y="60.2" width="2.5" height="3.9" fill="#4a5a7a"/><rect x="45.8" y="50.7" width="1.1" height="4.1" fill="#b09878"/><rect x="3.0" y="55.6" width="1.0" height="4.9" fill="#8a3030"/><rect x="11.3" y="62.1" width="2.5" height="2.4" fill="#c8c0c0"/><rect x="1.1" y="44.8" width="2.0" height="3.3" fill="#c8c0c0"/><rect x="75.4" y="46.3" width="1.8" height="2.3" fill="#8a3030"/><rect x="40.5" y="43.0" width="1.7" height="4.3" fill="#c8c0c0"/><rect x="91.4" y="65.7" width="1.4" height="4.7" fill="#4a5a7a"/><rect x="21.0" y="38.8" width="2.3" height="4.5" fill="#eeeeee"/><rect x="71.1" y="68.2" width="2.3" height="1.9" fill="#d8d4d4"/><rect x="83.1" y="47.8" width="1.8" height="2.6" fill="#b09878"/><rect x="83.9" y="69.4" width="1.5" height="4.4" fill="#8a3030"/><rect x="27.8" y="55.9" width="2.1" height="3.5" fill="#c8c0c0"/><rect x="30.9" y="62.5" width="2.0" height="2.9" fill="#2a2424"/><rect x="19.0" y="61.7" width="1.4" height="2.0" fill="#d8d4d4"/><rect x="4.7" y="56.7" width="1.2" height="3.4" fill="#8a3030"/><rect x="64.0" y="47.3" width="2.1" height="2.2" fill="#3a3030"/><rect x="47.5" y="40.4" width="2.2" height="3.4" fill="#2a2424"/><rect x="3.6" y="42.2" width="1.9" height="4.8" fill="#eeeeee"/><rect x="50.0" y="69.9" width="1.6" height="4.3" fill="#5a4848"/><rect x="90.6" y="37.1" width="1.6" height="3.1" fill="#3a4a6a"/><rect x="19.7" y="65.9" width="1.6" height="3.5" fill="#2a2424"/><rect x="87.9" y="62.7" width="1.7" height="3.8" fill="#eeeeee"/><rect x="20.5" y="60.0" width="2.5" height="1.9" fill="#c8c0c0"/><rect x="24.2" y="48.0" width="2.6" height="3.4" fill="#3a3030"/><rect x="79.1" y="45.5" width="2.4" height="2.7" fill="#3a4a6a"/><rect x="8.3" y="49.9" width="1.7" height="2.5" fill="#b09878"/><rect x="92.0" y="41.9" width="1.7" height="1.6" fill="#3a3030"/><rect x="53.3" y="58.7" width="1.8" height="5.0" fill="#5a4848"/><rect x="90.1" y="52.7" width="2.1" height="4.8" fill="#c8c0c0"/><rect x="8.6" y="42.0" width="1.9" height="4.4" fill="#b09878"/><rect x="56.2" y="39.9" width="2.3" height="3.5" fill="#b09878"/><rect x="31.2" y="47.7" width="1.3" height="4.5" fill="#505050"/><rect x="96.8" y="52.9" width="1.8" height="2.9" fill="#505050"/><rect x="11.4" y="34.2" width="1.0" height="4.9" fill="#4a5a7a"/><rect x="51.6" y="48.4" width="1.2" height="1.8" fill="#505050"/><rect x="16.7" y="67.5" width="1.7" height="4.8" fill="#8a3030"/><rect x="92.3" y="43.7" width="1.8" height="2.7" fill="#8a3030"/><rect x="90.1" y="67.7" width="1.8" height="1.9" fill="#8a3030"/><rect x="42.0" y="35.1" width="1.2" height="4.2" fill="#d8d4d4"/><rect x="2.3" y="41.0" width="1.0" height="2.5" fill="#8a6a60"/><rect x="72.4" y="42.8" width="1.2" height="4.1" fill="#8a3030"/><rect x="12.3" y="52.4" width="2.1" height="4.0" fill="#d8d4d4"/><rect x="87.9" y="34.8" width="1.7" height="3.4" fill="#c8c0c0"/><rect x="16.0" y="41.4" width="1.9" height="2.3" fill="#c8c0c0"/><rect x="21.6" y="53.5" width="2.4" height="2.3" fill="#505050"/><rect x="74.1" y="63.2" width="1.5" height="2.6" fill="#5a4848"/><rect x="92.3" y="41.9" width="2.4" height="2.0" fill="#8a6a60"/><rect x="23.9" y="60.2" width="1.6" height="3.0" fill="#d8d4d4"/><rect x="94.1" y="53.6" width="1.2" height="2.9" fill="#3a4a6a"/><rect x="68.5" y="34.6" width="1.9" height="2.8" fill="#8a6a60"/><rect x="82.1" y="47.0" width="1.8" height="4.2" fill="#3a4a6a"/><rect x="50.3" y="58.7" width="2.3" height="3.2" fill="#8a6a60"/><rect x="2.4" y="61.4" width="1.8" height="3.5" fill="#505050"/><rect x="14.7" y="40.6" width="1.3" height="2.1" fill="#8a6a60"/><rect x="28.3" y="58.2" width="1.1" height="4.8" fill="#505050"/><rect x="32.7" y="50.8" width="1.6" height="2.2" fill="#b09878"/><rect x="4.1" y="41.2" width="1.7" height="4.1" fill="#4a5a7a"/><rect x="40.5" y="41.0" width="1.2" height="4.3" fill="#5a4848"/><rect x="32.4" y="37.1" width="2.4" height="4.7" fill="#3a4a6a"/><rect x="94.0" y="54.5" width="1.8" height="4.9" fill="#8a6a60"/><rect x="80.5" y="43.3" width="2.2" height="4.2" fill="#3a3030"/><rect x="81.5" y="48.6" width="2.4" height="3.9" fill="#eeeeee"/><rect x="76.7" y="61.5" width="1.3" height="2.1" fill="#4a5a7a"/><rect x="79.7" y="44.9" width="1.0" height="2.7" fill="#3a3030"/><rect x="63.9" y="56.5" width="1.4" height="4.9" fill="#8a6a60"/><rect x="29.9" y="41.8" width="1.9" height="3.4" fill="#4a5a7a"/><rect x="64.2" y="59.2" width="2.6" height="1.6" fill="#4a5a7a"/><rect x="61.5" y="60.6" width="1.7" height="3.3" fill="#d8d4d4"/><rect x="76.1" y="57.3" width="1.2" height="2.4" fill="#2a2424"/><rect x="90.6" y="53.8" width="1.7" height="3.3" fill="#b09878"/><rect x="84.6" y="37.6" width="2.3" height="1.8" fill="#8a3030"/><rect x="59.8" y="61.3" width="1.6" height="4.8" fill="#2a2424"/><rect x="85.6" y="53.5" width="1.1" height="4.8" fill="#505050"/><rect x="59.8" y="47.2" width="1.8" height="2.4" fill="#d8d4d4"/><rect x="92.9" y="57.9" width="1.5" height="1.5" fill="#3a4a6a"/><rect x="24.5" y="35.5" width="1.7" height="3.9" fill="#5a4848"/><rect x="5.3" y="45.3" width="1.1" height="5.0" fill="#4a5a7a"/><rect x="94.4" y="36.6" width="1.7" height="3.2" fill="#8a6a60"/><rect x="97.3" y="42.8" width="1.2" height="4.3" fill="#b09878"/><rect x="90.9" y="39.2" width="2.0" height="1.9" fill="#8a6a60"/><rect x="62.4" y="50.4" width="2.4" height="2.7" fill="#8a6a60"/><rect x="15.5" y="47.1" width="2.1" height="3.1" fill="#5a4848"/><rect x="26.2" y="55.0" width="1.6" height="4.1" fill="#4a5a7a"/><rect x="81.5" y="38.9" width="2.2" height="2.3" fill="#d8d4d4"/><rect x="11.4" y="66.1" width="2.0" height="2.8" fill="#b09878"/><rect x="27.2" y="58.7" width="2.1" height="2.2" fill="#505050"/><rect x="27.9" y="42.6" width="1.8" height="3.8" fill="#8a6a60"/><rect x="19.6" y="58.6" width="1.1" height="2.4" fill="#c8c0c0"/><rect x="10.2" y="53.5" width="2.2" height="4.7" fill="#3a3030"/><rect x="16.1" y="42.5" width="1.8" height="2.7" fill="#eeeeee"/><rect x="33.8" y="51.8" width="2.3" height="1.8" fill="#5a4848"/><rect x="12.0" y="63.1" width="2.3" height="4.2" fill="#505050"/><rect x="39.0" y="39.4" width="2.0" height="5.0" fill="#5a4848"/><rect x="32.5" y="53.8" width="2.3" height="2.1" fill="#3a4a6a"/><rect x="65.4" y="54.9" width="2.4" height="1.8" fill="#8a3030"/><rect x="8.3" y="54.3" width="2.3" height="3.1" fill="#8a3030"/><rect x="82.3" y="34.3" width="1.3" height="3.8" fill="#d8d4d4"/><rect x="8.2" y="44.9" width="2.2" height="2.6" fill="#3a4a6a"/><rect x="88.2" y="41.9" width="2.2" height="2.8" fill="#c8c0c0"/><rect x="11.7" y="59.5" width="2.0" height="4.7" fill="#505050"/><rect x="68.7" y="44.1" width="2.3" height="2.6" fill="#b09878"/><rect x="31.8" y="48.4" width="2.4" height="2.4" fill="#3a4a6a"/><rect x="36.2" y="47.2" width="2.1" height="3.5" fill="#eeeeee"/><rect x="79.6" y="60.6" width="2.3" height="3.4" fill="#eeeeee"/><rect x="83.6" y="54.3" width="1.1" height="3.1" fill="#5a4848"/><rect x="85.5" y="63.2" width="1.8" height="3.4" fill="#8a6a60"/><rect x="56.7" y="68.8" width="2.3" height="3.0" fill="#c8c0c0"/><rect x="58.2" y="45.0" width="1.1" height="1.8" fill="#b09878"/><rect x="73.7" y="66.4" width="1.0" height="3.8" fill="#3a3030"/><rect x="9.7" y="63.4" width="1.4" height="2.3" fill="#4a5a7a"/><rect x="76.5" y="52.8" width="1.6" height="2.7" fill="#8a3030"/><rect x="96.8" y="58.2" width="1.8" height="4.3" fill="#8a3030"/><rect x="7.2" y="56.3" width="1.7" height="4.4" fill="#2a2424"/><rect x="66.7" y="64.7" width="2.3" height="4.6" fill="#4a5a7a"/><rect x="95.8" y="57.0" width="1.6" height="1.5" fill="#b09878"/><rect x="11.0" y="67.2" width="1.4" height="2.1" fill="#5a4848"/><rect x="63.5" y="58.6" width="1.3" height="3.0" fill="#eeeeee"/><rect x="29.2" y="68.9" width="1.8" height="4.1" fill="#2a2424"/><rect x="30.3" y="39.6" width="2.5" height="4.1" fill="#5a4848"/><rect x="1.7" y="51.3" width="1.5" height="2.2" fill="#2a2424"/><rect x="35.9" y="55.2" width="2.1" height="3.6" fill="#505050"/><rect x="22.4" y="40.7" width="1.6" height="4.7" fill="#d8d4d4"/><rect x="93.7" y="56.6" width="1.8" height="2.4" fill="#b09878"/><rect x="88.7" y="66.9" width="2.1" height="4.2" fill="#eeeeee"/><rect x="9.2" y="65.1" width="1.1" height="4.8" fill="#4a5a7a"/><rect x="80.1" y="47.9" width="2.3" height="4.2" fill="#b09878"/><rect x="78.8" y="36.1" width="2.4" height="4.6" fill="#8a6a60"/><rect x="90.5" y="50.2" width="2.1" height="3.6" fill="#8a6a60"/><rect x="15.7" y="39.6" width="1.2" height="4.7" fill="#eeeeee"/><rect x="81.0" y="38.7" width="2.6" height="2.4" fill="#3a4a6a"/><rect x="53.5" y="39.4" width="1.0" height="4.4" fill="#5a4848"/><rect x="84.6" y="63.6" width="1.6" height="3.7" fill="#3a3030"/><rect x="52.8" y="66.0" width="1.7" height="4.8" fill="#3a4a6a"/><rect x="58.7" y="64.9" width="1.0" height="2.2" fill="#d8d4d4"/><rect x="19.3" y="58.6" width="1.3" height="3.4" fill="#8a3030"/><rect x="52.6" y="39.7" width="1.5" height="2.9" fill="#d8d4d4"/><rect x="55.6" y="69.9" width="2.1" height="2.8" fill="#c8c0c0"/><rect x="68.7" y="37.8" width="2.1" height="4.1" fill="#4a5a7a"/><rect x="78.4" y="38.4" width="1.0" height="2.8" fill="#8a3030"/><rect x="71.0" y="42.5" width="1.2" height="4.2" fill="#505050"/><rect x="85.6" y="64.4" width="1.3" height="3.7" fill="#3a4a6a"/><rect x="29.0" y="47.5" width="2.2" height="4.8" fill="#b09878"/><rect x="75.5" y="54.0" width="1.4" height="2.2" fill="#3a3030"/><rect x="73.1" y="45.9" width="1.9" height="4.0" fill="#d8d4d4"/><rect x="33.2" y="63.8" width="1.2" height="3.7" fill="#3a3030"/><rect x="13.1" y="56.7" width="1.3" height="2.9" fill="#5a4848"/><rect x="83.7" y="55.3" width="1.2" height="1.6" fill="#3a3030"/><rect x="98.7" y="49.6" width="1.5" height="4.4" fill="#3a3030"/><rect x="92.7" y="39.0" width="2.2" height="4.4" fill="#8a6a60"/><rect x="38.6" y="45.9" width="2.0" height="4.0" fill="#4a5a7a"/><rect x="61.3" y="45.4" width="2.1" height="3.6" fill="#8a6a60"/><rect x="1.9" y="45.9" width="1.5" height="3.0" fill="#eeeeee"/><rect x="55.7" y="41.4" width="2.3" height="4.4" fill="#eeeeee"/><rect x="61.1" y="39.7" width="2.4" height="3.4" fill="#b09878"/><rect x="35.3" y="52.0" width="1.9" height="2.2" fill="#5a4848"/><rect x="93.4" y="69.9" width="2.3" height="2.2" fill="#3a4a6a"/><rect x="94.5" y="56.6" width="2.2" height="2.0" fill="#8a6a60"/><rect x="47.8" y="49.0" width="1.5" height="4.8" fill="#eeeeee"/><rect x="36.1" y="50.7" width="1.7" height="4.1" fill="#3a3030"/><rect x="23.9" y="54.5" width="1.9" height="3.5" fill="#b09878"/><rect x="26.4" y="66.7" width="2.0" height="1.9" fill="#eeeeee"/><rect x="82.5" y="44.4" width="1.4" height="3.5" fill="#eeeeee"/><rect x="83.1" y="40.7" width="2.3" height="3.1" fill="#b09878"/><rect x="93.0" y="70.0" width="1.5" height="3.8" fill="#5a4848"/><rect x="73.8" y="47.7" width="2.0" height="4.2" fill="#505050"/><rect x="15.9" y="48.8" width="1.2" height="2.9" fill="#2a2424"/><rect x="57.0" y="40.3" width="1.2" height="2.4" fill="#b09878"/><rect x="93.2" y="35.9" width="2.2" height="4.3" fill="#2a2424"/><rect x="40.3" y="51.9" width="1.8" height="2.9" fill="#3a3030"/><rect x="62.4" y="58.8" width="2.2" height="3.2" fill="#4a5a7a"/><rect x="99.5" y="64.2" width="1.7" height="3.0" fill="#3a4a6a"/><rect x="56.6" y="66.6" width="1.5" height="3.3" fill="#b09878"/><rect x="42.0" y="34.9" width="1.5" height="3.7" fill="#2a2424"/><rect x="43.3" y="47.6" width="2.2" height="2.6" fill="#eeeeee"/><rect x="59.3" y="36.5" width="2.4" height="2.3" fill="#3a3030"/><rect x="87.3" y="69.0" width="2.1" height="3.3" fill="#8a3030"/><rect x="23.9" y="45.0" width="2.5" height="4.6" fill="#4a5a7a"/><rect x="99.9" y="60.3" width="1.6" height="3.4" fill="#c8c0c0"/><rect x="56.4" y="39.9" width="2.2" height="3.5" fill="#c8c0c0"/><rect x="90.3" y="37.5" width="1.2" height="3.4" fill="#5a4848"/><rect x="95.1" y="34.0" width="2.2" height="1.6" fill="#8a6a60"/><rect x="17.2" y="49.9" width="2.3" height="2.9" fill="#8a3030"/><rect x="35.6" y="55.1" width="1.5" height="3.1" fill="#2a2424"/><rect x="31.4" y="45.7" width="2.5" height="4.9" fill="#5a4848"/><rect x="47.3" y="41.4" width="2.4" height="3.9" fill="#d8d4d4"/><rect x="5.9" y="45.4" width="2.4" height="1.6" fill="#eeeeee"/><rect x="63.5" y="59.1" width="1.3" height="3.7" fill="#b09878"/><rect x="19.2" y="65.7" width="2.0" height="2.6" fill="#2a2424"/><rect x="81.8" y="68.6" width="2.4" height="4.0" fill="#d8d4d4"/><rect x="13.5" y="59.1" width="1.7" height="2.1" fill="#8a3030"/><rect x="86.2" y="38.3" width="1.3" height="2.1" fill="#3a4a6a"/><rect x="23.5" y="57.9" width="1.6" height="3.8" fill="#d8d4d4"/><rect x="88.4" y="55.2" width="2.6" height="4.6" fill="#8a6a60"/><rect x="18.1" y="42.1" width="2.0" height="1.8" fill="#5a4848"/><rect x="98.3" y="49.9" width="1.1" height="4.7" fill="#b09878"/><rect x="0.7" y="55.1" width="1.4" height="4.3" fill="#b09878"/><rect x="8.7" y="44.3" width="1.4" height="2.5" fill="#8a6a60"/><rect x="54.8" y="40.7" width="2.6" height="1.6" fill="#5a4848"/><rect x="50.0" y="40.5" width="2.2" height="4.7" fill="#b09878"/><rect x="32.1" y="51.4" width="1.8" height="3.3" fill="#2a2424"/><rect x="84.5" y="58.6" width="2.2" height="3.4" fill="#b09878"/><rect x="59.4" y="61.8" width="2.0" height="2.3" fill="#3a3030"/><rect x="78.7" y="62.5" width="1.4" height="3.4" fill="#8a6a60"/><rect x="85.3" y="55.7" width="1.1" height="3.6" fill="#d8d4d4"/><rect x="71.5" y="54.6" width="1.5" height="3.6" fill="#5a4848"/><rect x="60.9" y="63.0" width="1.7" height="2.4" fill="#b09878"/><rect x="79.9" y="36.6" width="1.9" height="3.4" fill="#5a4848"/><rect x="79.2" y="42.6" width="1.1" height="3.0" fill="#5a4848"/><rect x="69.6" y="63.5" width="1.8" height="2.4" fill="#3a4a6a"/><rect x="58.9" y="37.2" width="1.3" height="2.4" fill="#b09878"/><rect x="16.0" y="58.9" width="2.3" height="1.7" fill="#505050"/><rect x="41.1" y="47.1" width="2.1" height="4.9" fill="#8a6a60"/><rect x="12.8" y="61.2" width="2.6" height="2.0" fill="#505050"/><rect x="3.9" y="42.7" width="1.2" height="2.9" fill="#b09878"/><rect x="29.8" y="49.3" width="2.6" height="3.9" fill="#3a3030"/><rect x="71.7" y="69.1" width="1.4" height="2.4" fill="#505050"/><rect x="55.2" y="42.7" width="1.1" height="2.3" fill="#8a3030"/><rect x="30.9" y="68.1" width="1.3" height="2.1" fill="#505050"/><rect x="58.5" y="69.8" width="1.5" height="3.9" fill="#3a4a6a"/><rect x="86.4" y="55.3" width="1.7" height="2.9" fill="#5a4848"/><rect x="84.3" y="47.7" width="1.3" height="2.7" fill="#2a2424"/><rect x="18.4" y="53.8" width="1.8" height="2.9" fill="#5a4848"/><rect x="59.4" y="61.3" width="1.7" height="5.0" fill="#8a3030"/><rect x="67.9" y="65.1" width="1.9" height="3.0" fill="#8a6a60"/><rect x="4.7" y="44.0" width="2.0" height="3.3" fill="#d8d4d4"/><rect x="74.2" y="52.4" width="2.5" height="4.0" fill="#505050"/><rect x="26.9" y="47.0" width="2.2" height="4.2" fill="#5a4848"/><rect x="13.7" y="42.7" width="1.0" height="2.6" fill="#3a3030"/><rect x="38.4" y="37.0" width="1.5" height="4.2" fill="#4a5a7a"/><rect x="51.9" y="36.0" width="2.0" height="3.2" fill="#4a5a7a"/><rect x="18.8" y="52.5" width="1.1" height="2.6" fill="#5a4848"/><rect x="13.6" y="59.4" width="1.5" height="3.1" fill="#d8d4d4"/><rect x="83.5" y="53.3" width="1.6" height="2.9" fill="#8a3030"/><rect x="86.6" y="42.1" width="1.6" height="3.6" fill="#d8d4d4"/><rect x="14.0" y="64.5" width="2.0" height="3.5" fill="#3a4a6a"/><rect x="80.9" y="69.1" width="2.1" height="1.7" fill="#d8d4d4"/><rect x="85.3" y="54.1" width="2.1" height="4.8" fill="#eeeeee"/><rect x="86.8" y="42.4" width="1.4" height="4.3" fill="#c8c0c0"/><rect x="12.0" y="51.7" width="1.6" height="2.6" fill="#8a3030"/><rect x="49.7" y="44.1" width="2.5" height="2.2" fill="#5a4848"/><rect x="76.8" y="46.6" width="1.4" height="1.8" fill="#3a4a6a"/><rect x="34.2" y="49.2" width="1.8" height="2.4" fill="#5a4848"/><rect x="85.3" y="45.1" width="2.4" height="1.9" fill="#2a2424"/><rect x="91.0" y="66.8" width="1.1" height="3.2" fill="#d8d4d4"/><rect x="58.6" y="50.9" width="2.4" height="1.8" fill="#eeeeee"/><rect x="3.5" y="45.6" width="1.9" height="2.4" fill="#eeeeee"/><rect x="66.8" y="40.7" width="1.6" height="2.7" fill="#8a3030"/><rect x="89.8" y="35.1" width="2.5" height="4.2" fill="#3a4a6a"/><rect x="62.7" y="56.3" width="2.0" height="1.7" fill="#4a5a7a"/><rect x="6.8" y="50.7" width="1.6" height="4.7" fill="#8a3030"/><rect x="3.8" y="38.9" width="1.4" height="3.2" fill="#b09878"/><rect x="47.3" y="34.8" width="1.3" height="2.3" fill="#505050"/><rect x="68.0" y="42.4" width="2.5" height="4.9" fill="#2a2424"/><rect x="0.3" y="53.7" width="2.2" height="1.8" fill="#c8c0c0"/><rect x="82.3" y="65.8" width="2.6" height="2.7" fill="#3a4a6a"/><rect x="34.7" y="65.9" width="2.3" height="2.2" fill="#eeeeee"/><rect x="39.6" y="39.6" width="2.3" height="2.1" fill="#8a6a60"/><rect x="62.2" y="51.7" width="1.5" height="3.0" fill="#505050"/>
<g fill="#2a2020"><circle cx="91.7" cy="55.2" r="1.13"/><circle cx="98.9" cy="57.3" r="1.13"/><circle cx="31.0" cy="58.1" r="0.91"/><circle cx="67.9" cy="37.0" r="0.97"/><circle cx="41.3" cy="48.5" r="0.81"/><circle cx="39.7" cy="55.2" r="1.02"/><circle cx="25.3" cy="52.5" r="0.82"/><circle cx="68.3" cy="40.8" r="1.11"/><circle cx="20.5" cy="50.7" r="0.68"/><circle cx="98.3" cy="52.7" r="0.68"/><circle cx="74.0" cy="43.0" r="0.70"/><circle cx="20.1" cy="52.2" r="0.78"/><circle cx="65.2" cy="61.3" r="0.88"/><circle cx="69.4" cy="56.6" r="1.16"/><circle cx="26.8" cy="43.0" r="0.75"/><circle cx="66.6" cy="46.1" r="1.01"/><circle cx="13.9" cy="40.1" r="1.20"/><circle cx="87.1" cy="41.0" r="0.81"/><circle cx="53.8" cy="56.8" r="0.84"/><circle cx="90.5" cy="57.7" r="1.11"/><circle cx="17.1" cy="37.8" r="0.86"/><circle cx="87.0" cy="52.9" r="0.73"/><circle cx="72.2" cy="46.6" r="0.69"/><circle cx="57.6" cy="53.5" r="0.73"/><circle cx="28.3" cy="58.5" r="0.87"/><circle cx="83.4" cy="50.5" r="1.14"/><circle cx="88.1" cy="47.2" r="0.69"/><circle cx="88.4" cy="43.0" r="0.94"/><circle cx="27.4" cy="46.4" r="0.79"/><circle cx="8.1" cy="41.2" r="0.93"/><circle cx="55.9" cy="39.9" r="0.60"/><circle cx="76.1" cy="53.4" r="0.60"/><circle cx="33.6" cy="39.6" r="1.07"/><circle cx="99.2" cy="46.6" r="0.62"/><circle cx="35.1" cy="50.6" r="0.93"/><circle cx="21.5" cy="52.0" r="1.10"/><circle cx="25.2" cy="40.9" r="0.77"/><circle cx="25.0" cy="56.9" r="0.94"/><circle cx="94.1" cy="37.2" r="1.11"/><circle cx="94.5" cy="50.0" r="1.00"/><circle cx="27.1" cy="36.6" r="0.93"/><circle cx="6.3" cy="48.1" r="1.13"/><circle cx="6.4" cy="45.5" r="1.06"/><circle cx="26.5" cy="42.4" r="1.15"/><circle cx="49.5" cy="44.0" r="0.92"/><circle cx="66.6" cy="56.9" r="1.06"/><circle cx="93.6" cy="48.5" r="1.10"/><circle cx="40.9" cy="59.4" r="0.97"/><circle cx="0.9" cy="39.7" r="0.79"/><circle cx="72.4" cy="49.2" r="0.77"/><circle cx="99.2" cy="52.3" r="0.87"/><circle cx="31.2" cy="37.7" r="0.99"/><circle cx="59.4" cy="42.9" r="0.73"/><circle cx="18.0" cy="37.2" r="0.68"/><circle cx="30.4" cy="41.4" r="0.81"/><circle cx="15.6" cy="45.7" r="0.71"/><circle cx="2.2" cy="46.4" r="0.63"/><circle cx="9.5" cy="60.7" r="1.10"/><circle cx="76.1" cy="36.5" r="0.70"/><circle cx="6.7" cy="51.3" r="0.95"/><circle cx="32.2" cy="48.3" r="1.16"/><circle cx="49.9" cy="56.3" r="1.13"/><circle cx="81.3" cy="37.8" r="0.83"/><circle cx="92.1" cy="58.9" r="1.07"/><circle cx="52.5" cy="36.3" r="1.04"/><circle cx="66.2" cy="59.7" r="0.63"/><circle cx="61.6" cy="45.0" r="0.86"/><circle cx="71.5" cy="47.0" r="1.18"/><circle cx="92.5" cy="39.2" r="1.04"/><circle cx="74.4" cy="47.3" r="0.88"/><circle cx="83.7" cy="49.0" r="0.83"/><circle cx="54.1" cy="37.1" r="1.15"/><circle cx="52.8" cy="47.7" r="0.77"/><circle cx="4.6" cy="37.4" r="0.79"/><circle cx="53.7" cy="44.5" r="0.75"/><circle cx="62.3" cy="40.9" r="0.88"/><circle cx="55.2" cy="37.4" r="1.18"/><circle cx="75.3" cy="59.3" r="0.67"/><circle cx="18.7" cy="60.0" r="1.07"/><circle cx="14.2" cy="39.0" r="0.66"/><circle cx="25.2" cy="42.8" r="0.71"/><circle cx="3.8" cy="44.9" r="0.91"/><circle cx="34.9" cy="41.4" r="0.61"/><circle cx="42.7" cy="48.7" r="1.18"/><circle cx="23.9" cy="38.8" r="0.86"/><circle cx="75.7" cy="58.8" r="0.64"/><circle cx="49.7" cy="37.5" r="1.12"/><circle cx="97.3" cy="37.7" r="1.16"/><circle cx="81.2" cy="40.6" r="0.80"/><circle cx="92.9" cy="60.8" r="0.73"/><circle cx="28.9" cy="46.8" r="0.97"/><circle cx="3.1" cy="53.7" r="0.88"/><circle cx="48.9" cy="38.3" r="0.99"/><circle cx="53.2" cy="44.2" r="1.17"/><circle cx="97.0" cy="50.6" r="1.20"/><circle cx="37.8" cy="57.2" r="1.02"/><circle cx="84.5" cy="60.6" r="0.99"/><circle cx="20.9" cy="41.4" r="1.06"/><circle cx="17.2" cy="51.1" r="0.62"/><circle cx="27.8" cy="42.7" r="0.81"/><circle cx="62.3" cy="44.0" r="0.60"/><circle cx="6.9" cy="41.3" r="1.03"/><circle cx="87.0" cy="56.0" r="0.72"/><circle cx="7.1" cy="42.9" r="0.82"/><circle cx="61.3" cy="43.3" r="0.68"/><circle cx="12.4" cy="38.5" r="0.91"/><circle cx="41.8" cy="48.8" r="0.67"/><circle cx="12.3" cy="58.8" r="1.17"/><circle cx="7.8" cy="52.9" r="0.74"/><circle cx="47.7" cy="41.2" r="0.85"/><circle cx="22.0" cy="52.6" r="0.82"/><circle cx="33.3" cy="51.2" r="1.00"/><circle cx="26.8" cy="53.2" r="0.61"/><circle cx="61.1" cy="36.4" r="0.82"/><circle cx="59.3" cy="58.5" r="0.83"/><circle cx="27.8" cy="38.7" r="1.13"/><circle cx="76.9" cy="38.7" r="0.99"/><circle cx="45.3" cy="41.4" r="1.07"/><circle cx="1.6" cy="36.8" r="0.95"/><circle cx="69.7" cy="61.7" r="1.09"/></g>
<path d="M0 68 L57 66 L100 72 L100 100 L0 100 Z" fill="url(#st5)"/>
<path d="M0 80 L30 76 L40 100 L0 100 Z" fill="#6a7078" opacity="0.7"/>
<path d="M57 66 L100 71 L100 77 L57 71 Z" fill="#c6cacc"/>
<rect x="8.5" y="76" width="12.5" height="3.5" fill="#a06868" opacity="0.8"/>
<g fill="#262626"><circle cx="90.5" cy="88.0" r="0.49"/><circle cx="30.4" cy="74.6" r="0.70"/><circle cx="61.0" cy="87.6" r="0.44"/><circle cx="41.7" cy="70.6" r="0.87"/><circle cx="57.5" cy="76.2" r="0.72"/><circle cx="33.3" cy="71.6" r="1.00"/><circle cx="74.2" cy="91.3" r="0.96"/><circle cx="63.8" cy="85.8" r="0.70"/><circle cx="87.3" cy="83.9" r="0.46"/><circle cx="84.6" cy="70.1" r="0.98"/><circle cx="77.2" cy="91.2" r="0.94"/><circle cx="74.8" cy="96.2" r="0.68"/><circle cx="91.3" cy="81.7" r="0.49"/><circle cx="52.8" cy="79.9" r="0.90"/><circle cx="91.2" cy="72.9" r="0.65"/><circle cx="67.1" cy="96.3" r="0.87"/><circle cx="32.1" cy="97.0" r="0.74"/><circle cx="30.1" cy="76.4" r="0.80"/><circle cx="63.2" cy="78.3" r="0.61"/><circle cx="43.4" cy="86.0" r="0.68"/><circle cx="99.2" cy="85.9" r="0.50"/><circle cx="32.8" cy="73.7" r="0.94"/><circle cx="85.7" cy="83.6" r="0.49"/><circle cx="67.3" cy="74.7" r="0.77"/><circle cx="97.3" cy="89.2" r="0.47"/><circle cx="86.7" cy="76.2" r="0.88"/><circle cx="33.2" cy="89.9" r="0.63"/><circle cx="47.1" cy="86.7" r="0.64"/><circle cx="62.0" cy="94.6" r="0.73"/><circle cx="82.2" cy="90.9" r="0.63"/><circle cx="47.5" cy="75.8" r="0.72"/><circle cx="74.3" cy="81.3" r="0.94"/><circle cx="40.3" cy="96.8" r="0.74"/><circle cx="35.3" cy="96.5" r="0.96"/><circle cx="32.3" cy="86.9" r="0.56"/><circle cx="70.0" cy="75.9" r="0.45"/><circle cx="84.4" cy="80.4" r="0.79"/><circle cx="50.0" cy="73.2" r="0.59"/><circle cx="64.8" cy="74.4" r="0.63"/><circle cx="49.2" cy="92.1" r="0.81"/><circle cx="78.5" cy="70.9" r="0.62"/><circle cx="96.3" cy="84.0" r="0.72"/><circle cx="80.0" cy="80.1" r="0.76"/><circle cx="32.9" cy="88.6" r="0.61"/><circle cx="43.5" cy="96.0" r="0.82"/><circle cx="88.0" cy="75.7" r="0.86"/><circle cx="29.2" cy="75.0" r="0.47"/><circle cx="81.9" cy="79.3" r="0.91"/><circle cx="41.0" cy="85.9" r="0.88"/><circle cx="95.8" cy="87.5" r="0.62"/><circle cx="31.7" cy="85.4" r="0.46"/><circle cx="54.8" cy="76.1" r="0.55"/><circle cx="27.4" cy="74.0" r="0.49"/><circle cx="46.4" cy="77.6" r="1.00"/><circle cx="61.8" cy="80.7" r="0.45"/><circle cx="35.4" cy="79.2" r="0.83"/><circle cx="71.3" cy="88.4" r="0.53"/><circle cx="66.0" cy="92.2" r="0.69"/><circle cx="50.2" cy="86.9" r="0.95"/><circle cx="86.6" cy="74.7" r="0.45"/><circle cx="76.4" cy="73.8" r="0.85"/><circle cx="75.8" cy="91.6" r="0.67"/><circle cx="92.3" cy="89.6" r="0.90"/><circle cx="96.7" cy="79.6" r="0.90"/><circle cx="78.4" cy="89.0" r="0.64"/><circle cx="76.8" cy="87.6" r="0.47"/><circle cx="90.1" cy="72.6" r="0.59"/><circle cx="35.5" cy="95.6" r="0.49"/><circle cx="45.6" cy="81.0" r="0.94"/><circle cx="94.8" cy="75.4" r="0.82"/><circle cx="62.1" cy="81.8" r="0.88"/><circle cx="63.4" cy="83.0" r="0.73"/><circle cx="89.1" cy="90.9" r="0.59"/><circle cx="26.1" cy="92.2" r="0.79"/><circle cx="53.3" cy="91.7" r="0.81"/><circle cx="59.0" cy="85.9" r="0.68"/><circle cx="82.8" cy="74.0" r="0.82"/><circle cx="54.7" cy="72.4" r="0.69"/><circle cx="72.4" cy="79.5" r="0.65"/><circle cx="28.4" cy="94.9" r="0.88"/><circle cx="44.1" cy="76.6" r="0.53"/><circle cx="93.1" cy="71.8" r="0.51"/><circle cx="56.0" cy="84.3" r="0.63"/><circle cx="33.8" cy="75.0" r="0.77"/><circle cx="76.0" cy="83.5" r="0.49"/><circle cx="99.5" cy="79.5" r="0.50"/><circle cx="61.8" cy="83.2" r="0.67"/><circle cx="97.8" cy="79.6" r="0.58"/><circle cx="43.5" cy="74.2" r="0.99"/><circle cx="89.6" cy="89.9" r="0.61"/></g>
<path d="M56 34.5 L68.6 13.8 L82.8 35 L76.8 52.4 L75.2 61.8 L70.8 60.2 L63.1 41.3 Z" fill="#dc2624"/>
<ellipse cx="69.8" cy="41" rx="5.6" ry="7.4" fill="#f2e2e2"/><ellipse cx="72" cy="39.8" rx="4.6" ry="6.2" fill="#dc2624"/>
<path d="M76.3 28 L77.6 25 L78.6 28 L81.3 28 L79.2 30 L80.1 33 L77.6 31.2 L75 33 L75.9 30 L73.8 28 Z" fill="#fff"/>
<rect x="76" y="54" width="10.6" height="17" fill="#8c8e92"/>
<rect x="68.6" y="63.4" width="7.4" height="5.6" fill="#1e1e1e"/>
<path d="M45 54 L57.6 32 L58.6 33 L46.5 55 Z" fill="#6a4a3a"/>
<path d="M38.5 51 L48.4 51 L49 68 L52.5 93 L49.5 94 L44 72 L40.5 94 L37 93 L38.5 68 Z" fill="#221a1a"/>
<circle cx="42.8" cy="48.2" r="2.8" fill="#5a3a34"/>
</g></svg>
<div style="position:absolute;left:964px;top:627.5px;width:199.3px;height:139.8px;border:1px solid #a08a8a"></div>
<svg style="position:absolute;left:572.00px;top:124.00px;overflow:visible" width="46.00" height="46.00" viewBox="0 0 46 46"><g stroke="#3a3a3a" stroke-width="1" fill="#eeeeee" stroke-linejoin="round">
<path d="M21 37 C20 31 21 24 25 20.5 C29 17.5 37 17.5 40.5 20.5 C43.5 24 45.5 30 45 35.5 C44 37.5 42 36 41.5 34 L41.5 37 Q32 39.5 21 37 Z"/>
<circle cx="32.2" cy="10" r="7.2"/>
<path d="M1.5 39 C1 34 2.5 30 5 27 C8 24 19 23.5 22.5 26.5 C25.5 30 26 34.5 25 39 C24 41 22.5 40 22 38 L22 41 Q12 43.5 4 41 L3.5 38.5 C2.5 40.5 1.5 40.5 1.5 39 Z"/>
<circle cx="12.8" cy="17.2" r="7.4"/>
</g></svg><div style="position:absolute;left:618px;top:121.5px;width:1.2px;height:50px;background:#b0b0b0"></div>
<svg style="position:absolute;left:334.50px;top:281.00px;overflow:visible" width="46.00" height="46.00" viewBox="0 0 46 46"><circle cx="22.9" cy="22.6" r="22" fill="#a9a9a9" stroke="#333" stroke-width="1.8"/>
<path d="M10.7 27.4 L15.3 22.9 L21.4 28.4 L31.5 9.7 L38.6 15.8 L20.9 36.6 Z" fill="#f4f4f4" stroke="#333" stroke-width="1.3" stroke-linejoin="round"/></svg>
<svg style="position:absolute;left:359.50px;top:364.00px;overflow:visible" width="46.00" height="46.00" viewBox="0 0 46 46"><circle cx="23.2" cy="22.8" r="21.6" fill="#a9a9a9" stroke="#333" stroke-width="1.8"/>
<path d="M12 14 L34.5 33 M35 13 L13 34" stroke="#333" stroke-width="7.6" stroke-linecap="square"/>
<path d="M12 14 L34.5 33 M35 13 L13 34" stroke="#f2f2f2" stroke-width="5.2" stroke-linecap="square"/></svg>
<svg style="position:absolute;left:571.50px;top:523.50px;overflow:visible" width="32.00" height="47.00" viewBox="0 0 32 47"><path d="M4.75 24 L4.75 12 C4.75 5 9 2.6 15.45 2.6 C21.9 2.6 26.15 5 26.15 12 L26.15 24" fill="none" stroke="#333" stroke-width="4.6"/>
<path d="M4.75 24 L4.75 12 C4.75 5 9 2.6 15.45 2.6 C21.9 2.6 26.15 5 26.15 12 L26.15 24" fill="none" stroke="#e6e6e6" stroke-width="2.6"/>
<rect x="2" y="23.5" width="27.3" height="22.5" rx="2" fill="#ececec" stroke="#333" stroke-width="1.1"/>
<circle cx="15.4" cy="28.8" r="1.8" fill="#333"/><path d="M14.4 29 L16.4 29 L16 36 L14.8 36 Z" fill="#333"/></svg>
<svg style="position:absolute;left:431.00px;top:838.00px;overflow:visible" width="40.00" height="41.00" viewBox="0 0 40 41"><path d="M19.8 0.3 C31 0.3 39.2 6.5 39.2 14.8 C39.2 19.5 37 23 34 25 L33.6 39.8 L23.5 28.5 C22.3 29.2 21 29.3 19.8 29.3 C8.6 29.3 0.4 23 0.4 14.8 C0.4 6.5 8.6 0.3 19.8 0.3 Z" fill="#ebebeb" stroke="#3a3a3a" stroke-width="1.1"/></svg>
<svg style="position:absolute;left:364.00px;top:1022.00px;overflow:visible" width="34.00" height="49.00" viewBox="0 0 34 49"><g fill="#ececec" stroke="#3a3a3a" stroke-width="1.1">
<path d="M0.5 5.6 L0.3 44 C4 48.5 29 48.5 33.4 44 L33.2 5.6 Z"/>
<ellipse cx="16.8" cy="5.6" rx="16.4" ry="4.6"/>
<path d="M0.4 15 C6 19.5 27 19.5 33.3 15" fill="none"/>
<path d="M0.4 24.5 C6 29 27 29 33.3 24.5" fill="none"/>
<path d="M0.3 33 C6 37.5 27 37.5 33.3 33" fill="none"/>
</g></svg>
<svg style="position:absolute;left:1666.00px;top:81.00px;overflow:visible" width="12.00" height="12.00" viewBox="0 0 12 12"><circle cx="6" cy="6" r="5.2" fill="#e44"/><path d="M6 6 L11 8 A5.2 5.2 0 0 1 2 10 Z" fill="#4a4"/><path d="M6 6 L2 10 A5.2 5.2 0 0 1 1.5 3.5 Z" fill="#eb3"/><circle cx="6" cy="6" r="2.2" fill="#68c" stroke="#fff" stroke-width="0.8"/></svg>
<svg style="position:absolute;left:1857.00px;top:49.00px;overflow:visible" width="12.00" height="11.00" viewBox="0 0 12 11"><path d="M1 2 Q6 4 11 2 L9 7 L6 9 L3 7 Z" fill="#777"/><path d="M3.5 3.5 L8.5 3.5 L6 7 Z" fill="#aaa"/></svg>
<svg style="position:absolute;left:484.00px;top:474.00px;overflow:visible" width="12.00" height="11.00" viewBox="0 0 12 11"><path d="M1 2 Q6 4 11 2 L9 7 L6 9 L3 7 Z" fill="#777"/><path d="M3.5 3.5 L8.5 3.5 L6 7 Z" fill="#aaa"/></svg>
<svg style="position:absolute;left:1486.00px;top:160.00px;overflow:visible" width="34.00" height="47.00" viewBox="0 0 34 47"><g stroke="#333" stroke-width="1" stroke-linejoin="round">
<path d="M7 19 C4 26 1.5 36 1.5 41 C2 45 8 45.8 17 45.8 C27 45.8 33 45 33.2 41 C33 35 30 25 27 19 Z" fill="#d6d6d6"/>
<path d="M12.5 21 L15.5 40 L19 21 Z" fill="#f2f2f2"/>
<path d="M7 34 C6 37 7 39 9 37 M26 33 C28 33 29 35 27 36" fill="none"/>
<ellipse cx="15.3" cy="9.2" rx="10.8" ry="9.2" fill="#e2e2e2"/>
<rect x="4.6" y="4.8" width="9.8" height="5.8" rx="1" fill="#f2f2f2" stroke-width="1.6"/>
<rect x="15.6" y="4.8" width="10.4" height="5.8" rx="1" fill="#f2f2f2" stroke-width="1.6"/>
</g></svg>
<svg style="position:absolute;left:1692.00px;top:361.00px;overflow:visible" width="42.00" height="42.00" viewBox="0 0 42 42"><circle cx="21" cy="21" r="19.5" fill="#e4e4e4" stroke="#333" stroke-width="1.4"/>
<path d="M21 21 L34 7 A19.5 19.5 0 0 1 40 18 Z" fill="#8a8a8a" stroke="#333" stroke-width="0.9"/>
<path d="M21 21 L40 18 A19.5 19.5 0 0 1 23 40.5 Z" fill="#bdbdbd" stroke="#333" stroke-width="0.9"/></svg>
<svg style="position:absolute;left:1585.00px;top:926.00px;overflow:visible" width="47.00" height="47.00" viewBox="0 0 47 47"><path d="M26 29 L44 44.5 L46.5 41.5 L29 26 Z" fill="#dcdcdc" stroke="#333" stroke-width="1.1" stroke-linejoin="round"/>
<circle cx="16.2" cy="16" r="15" fill="#e6e6e6" stroke="#333" stroke-width="1.4"/>
<circle cx="16.2" cy="16" r="11" fill="#d2d2d2" stroke="#444" stroke-width="1.1"/>
<path d="M10 14 C10 10 13 8 16 8" fill="none" stroke="#888" stroke-width="1.2"/></svg>
<svg style="position:absolute;left:1585.00px;top:1023.00px;overflow:visible" width="46.00" height="40.00" viewBox="0 0 46 40"><rect x="0.6" y="1.6" width="44.5" height="29.4" rx="1.5" fill="#d8d8d8" stroke="#333" stroke-width="1.2"/>
<rect x="5.3" y="5.9" width="36.5" height="21.3" fill="#efefef" stroke="#333" stroke-width="1.1"/>
<path d="M18 31 L27 31 L28 35 L17 35 Z" fill="#ccc" stroke="#444" stroke-width="0.8"/>
<ellipse cx="22.5" cy="36" rx="9.5" ry="1.7" fill="#ddd" stroke="#444" stroke-width="0.8"/></svg>
<svg style="position:absolute;left:1481.00px;top:429.00px;overflow:visible" width="118.00" height="85.00" viewBox="0 0 118 85"><path d="M8 1 L110 1 C114 1 116 3 116 7 L116 26 C116 30 114 32 110 32 L40 32 L31 83 L22 32 L8 32 C4 32 1 30 1 26 L1 7 C1 3 4 1 8 1 Z" fill="#fcd775" stroke="#e6bb55" stroke-width="1"/></svg>
<div class="t cb" id="t0" style="left:416.50px;top:64.00px;transform:scaleX(1.0903)">ONU</div>
<div class="t cb" id="t1" style="left:409.50px;top:86.00px;transform:scaleX(1.0250)">OCDE</div>
<div class="t cb" id="t2" style="left:411.50px;top:108.00px;transform:scaleX(0.9907)">OSCE</div>
<div class="t cb" id="t3" style="left:414.00px;top:130.00px;transform:scaleX(1.1762)">G-20</div>
<div class="t cn" id="t4" style="left:471.50px;top:97.50px;transform:scaleX(1.0900)">Fondateur</div>
<div class="t cn" id="t5" style="left:445.30px;top:182.50px;transform:scaleX(1.1019)">Non fondateur</div>
<div class="t cb" id="t6" style="left:287.00px;top:171.00px;transform:scaleX(1.1130)">Conseil de l'Europe</div>
<div class="t cb" id="t7" style="left:382.00px;top:193.00px;transform:scaleX(1.1010)">OTAN</div>
<div class="t cw" id="t8" style="left:630.50px;top:139.95px;transform:scaleX(1.1735)">Membre</div>
<div class="t cn" id="t9" style="left:323.50px;top:220.00px;transform:scaleX(1.0884)">Abrite des <b class="r">bases</b> américaines</div>
<div class="t cn" id="t10" style="left:155.50px;top:250.00px;transform:scaleX(1.0999)">Position par rapport à l'URSS pendant la <b class="r">Guerre Froide</b></div>
<div class="t cw" id="t11" style="left:547.00px;top:236.55px;transform:scaleX(1.1553)">Allié historique des</div>
<div class="t cw" id="t12" style="left:615.75px;top:252.15px;transform:scaleX(1.1620)">États-Unis</div>
<div class="t cn" id="t13" style="left:387.50px;top:289.00px;transform:scaleX(1.1054)">Entretien de</div>
<div class="t cn" id="t14" style="left:387.50px;top:304.50px;transform:scaleX(1.0927)">bonnes relations</div>
<div class="t cn" id="t15" style="left:117.00px;top:302.00px;transform:scaleX(1.1179)">Ravitaillement d'Israël en <b class="r">eau</b></div>
<div class="t cn" id="t16" style="left:113.25px;top:324.00px;transform:scaleX(1.1471)"><b class="r">Coopération militaire</b> étroite</div>
<div class="t cn" id="t17" style="left:412.00px;top:372.75px;transform:scaleX(1.0772)">Tensions en</div>
<div class="t cn" id="t18" style="left:412.00px;top:388.50px;transform:scaleX(1.0906)">Juin 2010</div>
<div class="t cn" id="t19" style="left:133.25px;top:375.25px;transform:scaleX(1.1035)">Assaut de <b class="r">Tsahal</b> sur un convoi</div>
<div class="t cn" id="t20" style="left:88.25px;top:391.00px;transform:scaleX(1.1038)">humanitaire turc à destination de Gaza</div>
<div class="t cw" id="t21" style="left:532.00px;top:351.90px;transform:scaleX(1.1757)">1er État musulman à</div>
<div class="t cw" id="t22" style="left:558.25px;top:368.15px;transform:scaleX(1.1840)">reconnaître l'État</div>
<div class="t cw" id="t23" style="left:564.50px;top:384.40px;transform:scaleX(1.2387)">d'Israël en 1949</div>
<div class="t cn" id="t24" style="left:269.50px;top:427.75px;transform:scaleX(1.1274)">A occupé la partir <b class="r">Nord</b> du territoire</div>
<div class="t cb" id="t25" style="left:291.50px;top:457.75px;transform:scaleX(1.1273)">Reconnaît la République</div>
<div class="t cb" id="t26" style="left:291.50px;top:473.50px;transform:scaleX(1.1315)">Turque de Chypre du Nord</div>
<div class="t cw" id="t27" style="left:546.25px;top:452.65px;transform:scaleX(1.1625)">Ne reconnaît pas la</div>
<div class="t cw" id="t28" style="left:529.50px;top:468.15px;transform:scaleX(1.1534)">république de Chypre</div>
<div class="t cn" id="t29" style="left:288.25px;top:501.50px;transform:scaleX(1.1054)">Aucune relation diplomatique officielle</div>
<div class="t cn" id="t30" style="left:422.75px;top:531.00px;transform:scaleX(1.1083)">Frontière fermée</div>
<div class="t cn" id="t31" style="left:320.75px;top:561.00px;transform:scaleX(1.1054)">Négation du <b class="r">génocide</b> arménien</div>
<div class="t cw" id="t32" style="left:624.00px;top:524.40px;transform:scaleX(1.1370)">Embargo</div>
<div class="t cw" id="t33" style="left:642.50px;top:540.65px;transform:scaleX(1.1800)">contra</div>
<div class="t cw" id="t34" style="left:617.75px;top:556.90px;transform:scaleX(1.1897)">l'Arménie</div>
<div class="t cn" id="t35" style="left:243.25px;top:589.00px;transform:scaleX(1.1107)">Début des négociations en <b class="r">Octobre 2005</b></div>
<div class="t cn" id="t36" style="left:104.50px;top:618.50px;transform:scaleX(1.1065)">l’indépendance du pouvoir civil face à <b class="r">l’armée</b></div>
<div class="t cn" id="t37" style="left:85.00px;top:640.25px;transform:scaleX(1.0968)">normalisation des</div>
<div class="t cn" id="t38" style="left:80.25px;top:656.00px;transform:scaleX(1.0904)">relations avec ce pays</div>
<div class="t cn" id="t39" style="left:40.00px;top:677.75px;transform:scaleX(1.0905)">départ des colons anatoliens</div>
<div class="t cn" id="t40" style="left:50.00px;top:700.25px;transform:scaleX(1.1130)">retour des chypriotes turcs</div>
<div class="t cn" id="t41" style="left:243.75px;top:662.75px;transform:scaleX(1.0678)">La reconnaissance de la</div>
<div class="t cn" id="t42" style="left:243.75px;top:678.50px;transform:scaleX(1.1180)"><b class="r">République de Chypre</b></div>
<div class="t cn" id="t43" style="left:422.50px;top:689.75px;transform:scaleX(1.0892)">Critères de</div>
<div class="t cn" id="t44" style="left:422.50px;top:705.25px;transform:scaleX(1.1113)"><b class="r">Copenhague</b></div>
<div class="t cn" id="t45" style="left:221.50px;top:727.75px;transform:scaleX(1.0965)">l’application des normes de</div>
<div class="t cn" id="t46" style="left:221.50px;top:742.75px;transform:scaleX(1.1231)">protection des <b class="r">minorités</b></div>
<div class="t cn" id="t47" style="left:154.00px;top:737.75px;transform:scaleX(1.0800)">Kurdes</div>
<div class="t cn" id="t48" style="left:173.25px;top:769.50px;transform:scaleX(1.1259)">la promotion du droit des <b class="r">femmes</b></div>
<div class="t cn" id="t49" style="left:197.50px;top:791.50px;transform:scaleX(1.1268)">le respect de <b class="r">l'environnement</b></div>
<div class="t cw" id="t50" style="left:545.00px;top:691.15px;transform:scaleX(1.1604)">Candidate à l'Union</div>
<div class="t cw" id="t51" style="left:603.75px;top:707.65px;transform:scaleX(1.1402)">Européenne</div>
<div class="t cn" id="t52" style="left:219.00px;top:833.50px;transform:scaleX(1.0939)">Réitère sa promesse relative</div>
<div class="t cn" id="t53" style="left:219.00px;top:849.00px;transform:scaleX(1.1099)">au plan d'urbanisation</div>
<div class="t ci" id="t54" style="left:142.00px;top:871.00px;transform:scaleX(1.0906)">« Quoi que vous fassiez, nous avons pris</div>
<div class="t ci" id="t55" style="left:137.50px;top:886.50px;transform:scaleX(1.1030)">notre décision, et nous la réaliserons »</div>
<div class="t cn" id="t56" style="left:483.25px;top:844.00px;transform:scaleX(1.0708)">Discours de</div>
<div class="t cn" id="t57" style="left:483.25px;top:859.50px;transform:scaleX(1.0929)"><b class="r">Erdogan</b> le 29 Mai</div>
<div class="t cn" id="t58" style="left:213.25px;top:927.00px;transform:scaleX(1.0884)">Critique de l'usage des gaz lacrymogènes</div>
<div class="t ci" id="t59" style="left:145.50px;top:949.00px;transform:scaleX(1.0939)">« Nous suivons les manifestations</div>
<div class="t ci" id="t60" style="left:145.50px;top:964.50px;transform:scaleX(1.0988)">non-violentes avec respect"</div>
<div class="t cn" id="t61" style="left:387.75px;top:970.25px;transform:scaleX(1.1593)"><b class="k">Tweet</b> officiel</div>
<div class="t cn" id="t62" style="left:500.00px;top:935.75px;transform:scaleX(1.0792)"><b class="r">Excuses</b> du vis</div>
<div class="t cn" id="t63" style="left:500.00px;top:951.50px;transform:scaleX(1.1085)">1er ministres</div>
<div class="t cw" id="t64" style="left:638.25px;top:923.15px;transform:scaleX(1.1537)">Gouvernement</div>
<div class="t cw" id="t65" style="left:697.50px;top:939.90px;transform:scaleX(1.1798)">Turque</div>
<div class="t cn" id="t66" style="left:238.25px;top:1001.50px;transform:scaleX(1.1081)">Le porte parole d'État exprime son inquiétude</div>
<div class="t cn" id="t67" style="left:411.25px;top:1032.25px;transform:scaleX(1.1258)">Des <b class="r">manifestant</b></div>
<div class="t cn" id="t68" style="left:411.25px;top:1047.75px;transform:scaleX(1.0918)">se rassemblent</div>
<div class="t cn" id="t69" style="left:268.75px;top:1034.00px;transform:scaleX(1.0664)">San Diego</div>
<div class="t cn" id="t70" style="left:283.25px;top:1056.00px;transform:scaleX(1.0534)">Chicago</div>
<div class="t cn" id="t71" style="left:273.25px;top:1077.75px;transform:scaleX(1.0970)">New York</div>
<div class="t cb" id="t72" style="left:552.00px;top:1040.25px;transform:scaleX(1.1237)">États-Unis</div>
<div class="t cn" id="t73" style="left:222.75px;top:1119.00px;transform:scaleX(1.0918)">La <b class="r">Commission</b> publie une déclaration</div>
<div class="t ci" id="t74" style="left:212.75px;top:1141.00px;transform:scaleX(1.0902)">« Nous condamnons tout usage excessif</div>
<div class="t ci" id="t75" style="left:212.75px;top:1156.50px;transform:scaleX(1.1103)">et disproportionné de la force »</div>
<div class="t cb" id="t76" style="left:495.25px;top:1138.50px;transform:scaleX(1.1163)">Union Européenne</div>
<div class="t cn" id="t77" style="left:364.00px;top:1197.75px;transform:scaleX(1.1127)"><b class="r">Manifestation</b> place Trocadero</div>
<div class="t cb" id="t78" style="left:588.75px;top:1202.00px;transform:scaleX(1.1159)">Paris</div>
<div class="t cw" id="t79" style="left:652.50px;top:1116.15px;transform:scaleX(1.2260)">International</div>
<div class="t cw" id="t80" style="left:1390.00px;top:139.40px;transform:scaleX(1.1367)">Pouvoir</div>
<div class="t cn" id="t81" style="left:1478.25px;top:65.25px;transform:scaleX(1.1018)"><b class="r">AKP</b> ou Parti pour la justice</div>
<div class="t cn" id="t82" style="left:1478.25px;top:80.75px;transform:scaleX(1.1038)">et le développement</div>
<div class="t cn" id="t83" style="left:1704.00px;top:48.80px;transform:scaleX(1.0875)">Recep Tayyip <b class="r">Erdoğan</b></div>
<div class="t cn" id="t84" style="left:1894.40px;top:37.00px;transform:scaleX(1.1000)">Président du parti</div>
<div class="t cb" id="t85" style="left:1894.50px;top:59.30px;transform:scaleX(1.1509)">1er Ministre</div>
<div class="t cn" id="t86" style="left:1704.00px;top:81.70px;transform:scaleX(1.1130)">Centre-Droit</div>
<div class="t cn" id="t87" style="left:1704.00px;top:104.00px;transform:scaleX(1.0994)">Vainqueur aux élections</div>
<div class="t cn" id="t88" style="left:1704.00px;top:119.00px;transform:scaleX(1.0954)">législatives de 2007</div>
<div class="t cn" id="t89" style="left:1533.25px;top:168.50px;transform:scaleX(1.0684)">Tendance</div>
<div class="t cn" id="t90" style="left:1533.25px;top:184.00px;transform:scaleX(1.1836)"><b class="r">autoritaire</b></div>
<div class="t cn" id="t91" style="left:1632.50px;top:181.30px;transform:scaleX(1.0986)">Mise en examen de politiciens et journalistes</div>
<div class="t cn" id="t92" style="left:1632.50px;top:203.20px;transform:scaleX(1.1149)">Batterie de loi pour étouffer les manifestations</div>
<div class="t cn" id="t93" style="left:1481.50px;top:250.25px;transform:scaleX(1.0865)">Recours devant la cour</div>
<div class="t cn" id="t94" style="left:1481.50px;top:265.25px;transform:scaleX(1.1141)">constitutionnelle en 2008</div>
<div class="t cn" id="t95" style="left:1666.20px;top:230.00px;transform:scaleX(1.0848)">Procédure d'interdiction de l'AKP</div>
<div class="t cn" id="t96" style="left:1666.20px;top:251.70px;transform:scaleX(1.1622)"><b class="r">Pour "atteinte à la laicité"</b></div>
<div class="t cn" id="t97" style="left:1666.20px;top:294.20px;transform:scaleX(1.0866)">2 amendements annulés</div>
<div class="t cn" id="t98" style="left:1845.10px;top:274.00px;transform:scaleX(1.1288)"><b class="r">Port du voile dans</b></div>
<div class="t cn" id="t99" style="left:1845.10px;top:289.00px;transform:scaleX(1.1314)"><b class="r">les universités</b></div>
<div class="t cw" id="t100" style="left:1390.00px;top:413.65px;transform:scaleX(1.1566)">Libertés</div>
<div class="t cn" id="t101" style="left:1481.20px;top:366.00px;transform:scaleX(1.0765)">La cour ne dissolue pas l'ASK</div>
<div class="t cn" id="t102" style="left:1690.70px;top:340.70px;transform:scaleX(1.1360)"><b class="r">condamnation financière</b></div>
<div class="t cn" id="t103" style="left:1740.40px;top:368.70px;transform:scaleX(1.0989)">Privé de la moitié de ses 26 millions</div>
<div class="t cn" id="t104" style="left:1740.40px;top:384.20px;transform:scaleX(1.0999)">d'euros de subvention annuelle</div>
<div class="t cy" id="t105" style="left:1494.50px;top:439.30px;transform:scaleX(1.1669)">Depuis 2011</div>
<div class="t cn" id="t106" style="left:1481.20px;top:515.40px;transform:scaleX(1.0675)">Réduction</div>
<div class="t cn" id="t107" style="left:1567.80px;top:470.80px;transform:scaleX(1.1047)">liberté d'expression</div>
<div class="t cn" id="t108" style="left:1567.80px;top:493.00px;transform:scaleX(1.1052)">liberté de la presse</div>
<div class="t cn" id="t109" style="left:1567.80px;top:515.40px;transform:scaleX(1.1531)">utilisation d'Internet</div>
<div class="t cn" id="t110" style="left:1567.80px;top:537.40px;transform:scaleX(1.0938)">consommation d'alcool</div>
<div class="t cn" id="t111" style="left:1567.80px;top:559.50px;transform:scaleX(1.1411)">droit à l'avortement</div>
<div class="t cw" id="t112" style="left:1399.00px;top:731.15px;transform:scaleX(1.1627)">Manifestants</div>
<div class="t cn" id="t113" style="left:1527.00px;top:621.00px;transform:scaleX(1.1132)">50 <b class="r">écologistes</b></div>
<div class="t cn" id="t114" style="left:1650.00px;top:600.25px;transform:scaleX(1.1231)">protestants initiaux</div>
<div class="t cn" id="t115" style="left:1650.00px;top:616.00px;transform:scaleX(1.1740)">à <b class="r">Istanbul</b></div>
<div class="t cn" id="t116" style="left:1527.00px;top:695.75px;transform:scaleX(1.1033)">Mouvement amplifié suite aux</div>
<div class="t cn" id="t117" style="left:1527.00px;top:711.00px;transform:scaleX(1.1044)">ripostes du gouvernement</div>
<div class="t cn" id="t118" style="left:1745.25px;top:666.50px;transform:scaleX(1.1027)">Droite</div>
<div class="t cn" id="t119" style="left:1745.25px;top:688.50px;transform:scaleX(1.0374)">Gauche</div>
<div class="t cn" id="t120" style="left:1745.25px;top:710.75px;transform:scaleX(1.0739)">Khurdes</div>
<div class="t cn" id="t121" style="left:1745.25px;top:732.75px;transform:scaleX(1.0383)">Grecs</div>
<div class="t cn" id="t122" style="left:1745.25px;top:754.75px;transform:scaleX(1.0660)">Juifs</div>
<div class="t cn" id="t123" style="left:1527.00px;top:784.00px;transform:scaleX(1.1524)"><b class="r">Pas de parti politique en particulier</b></div>
<div class="t cn" id="t124" style="left:1527.00px;top:834.50px;transform:scaleX(1.0967)">Une douzaine de <b class="r">syndicats</b> se joignent</div>
<div class="t cn" id="t125" style="left:1800.75px;top:814.00px;transform:scaleX(1.1060)">Exigent la <b class="r">démission</b></div>
<div class="t cn" id="t126" style="left:1800.75px;top:829.50px;transform:scaleX(1.1078)">du 1er Ministre</div>
<div class="t cn" id="t127" style="left:1582.50px;top:866.50px;transform:scaleX(1.1047)">Préservation du <b class="k">parc Gezi</b></div>
<div class="t cn" id="t128" style="left:1582.50px;top:896.50px;transform:scaleX(1.1204)">Liberté de <b class="k">réunion</b></div>
<div class="t cn" id="t129" style="left:1638.00px;top:927.00px;transform:scaleX(1.0726)">Poursuite des personnes</div>
<div class="t cn" id="t130" style="left:1638.00px;top:942.75px;transform:scaleX(1.0965)"><b class="k">responsables</b> de violence</div>
<div class="t cn" id="t131" style="left:1638.00px;top:958.25px;transform:scaleX(1.1033)">contre les manifestants</div>
<div class="t cw" id="t132" style="left:1402.00px;top:970.65px;transform:scaleX(1.1627)">5 exigences publié</div>
<div class="t cw" id="t133" style="left:1402.00px;top:986.90px;transform:scaleX(1.1291)">par Occupy Gezi</div>
<div class="t cn" id="t134" style="left:1582.50px;top:988.50px;transform:scaleX(1.1032)">Un terme à la <b class="k">privatisation</b> des espaces publiques</div>
<div class="t cn" id="t135" style="left:1638.00px;top:1027.00px;transform:scaleX(1.0765)">Appel aux</div>
<div class="t cn" id="t136" style="left:1638.00px;top:1042.25px;transform:scaleX(1.1269)"><b class="k">médias</b></div>
<div class="t cn" id="t137" style="left:1728.75px;top:1028.50px;transform:scaleX(1.0996)">Protéger le bien public</div>
<div class="t cn" id="t138" style="left:1728.75px;top:1050.75px;transform:scaleX(1.0913)">Relais des informations correctes</div>
<div class="t cn" id="t139" style="left:1728.75px;top:1072.75px;transform:scaleX(1.1012)">éthique et professionnalisme</div>
<div class="t cn" id="t140" style="left:1550.75px;top:1104.50px;transform:scaleX(1.1737)"><b class="r">Istanbul</b></div>
<div class="t cn" id="t141" style="left:1634.50px;top:1099.50px;transform:scaleX(1.1081)">100 000 manifestants</div>
<div class="t cn" id="t142" style="left:1550.75px;top:1171.00px;transform:scaleX(1.1117)"><b class="r">Ankara</b></div>
<div class="t cn" id="t143" style="left:1624.50px;top:1150.50px;transform:scaleX(1.0932)">seconde villa la plus marquée</div>
<div class="t cn" id="t144" style="left:1624.50px;top:1166.25px;transform:scaleX(1.1052)">par les manifestations</div>
<div class="t cn" id="t145" style="left:1550.25px;top:1205.00px;transform:scaleX(1.1123)">Plus de <b class="r">3000 blessés</b></div>
<div class="t cn" id="t146" style="left:1550.25px;top:1220.50px;transform:scaleX(1.1225)">à Istanbul et Ankara</div>
<div class="t cn" id="t147" style="left:1550.25px;top:1250.50px;transform:scaleX(1.1305)">2 morts</div>
<div class="t cn" id="t148" style="left:1550.25px;top:1285.50px;transform:scaleX(1.1157)">81 à 90 autres villes</div>
<div class="t cn" id="t149" style="left:1703.75px;top:1280.50px;transform:scaleX(1.1061)">251 000 manifestants</div>
<div class="t cw" id="t150" style="left:1402.00px;top:1197.90px;transform:scaleX(1.1379)">Lieux des</div>
<div class="t cw" id="t151" style="left:1402.00px;top:1214.15px;transform:scaleX(1.1689)">manifestations</div>
<div class="t cT" id="t152" style="left:961.20px;top:576.37px;transform:scaleX(1.1773)">MANIFESTATIONS</div>
<div class="t cT" id="t153" style="left:979.20px;top:600.27px;transform:scaleX(1.1505)">TURQUES 2013</div>
<div class="t cR" id="t154" style="left:786.25px;top:372.55px;transform:scaleX(1.1454)">RELATIONS</div>
<div class="t cR" id="t155" style="left:752.50px;top:390.55px;transform:scaleX(1.1617)">INTERNATIONALES</div>
<div class="t cR" id="t156" style="left:1222.00px;top:258.05px;transform:scaleX(1.0895)">CONTEXTE</div>
<div class="t cR" id="t157" style="left:820.75px;top:973.80px;transform:scaleX(1.1263)">RÉACTIONS</div>
<div class="t cR" id="t158" style="left:1194.00px;top:898.80px;transform:scaleX(1.1647)">REVENDICATIONS</div>
</body></html>
